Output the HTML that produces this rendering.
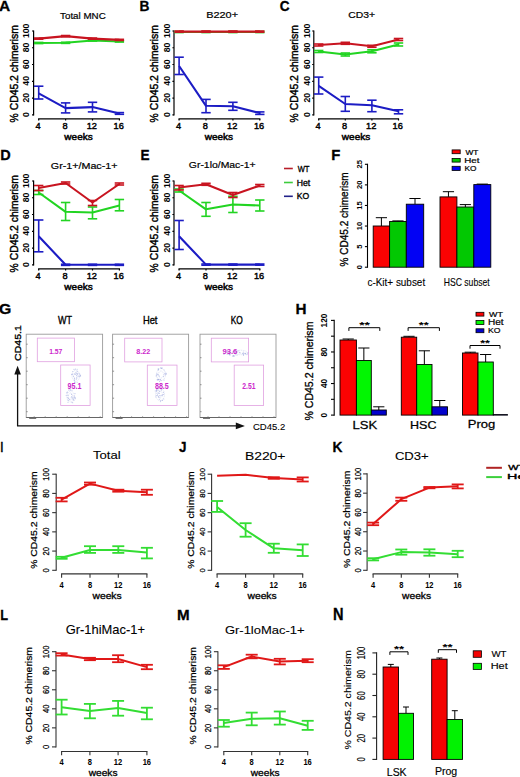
<!DOCTYPE html>
<html><head><meta charset="utf-8"><style>
html,body{margin:0;padding:0;background:#fff;overflow:hidden;}
svg{display:block;font-family:"Liberation Sans", sans-serif;}
</style></head><body>
<svg width="520" height="777" viewBox="0 0 520 777">
<rect width="520" height="777" fill="#fff"/>
<line x1="33.60" y1="30.40" x2="33.60" y2="115.40" stroke="#000" stroke-width="1.2" stroke-linecap="butt"/>
<line x1="32.00" y1="114.80" x2="33.60" y2="114.80" stroke="#000" stroke-width="1.2" stroke-linecap="butt"/>
<line x1="32.00" y1="98.04" x2="33.60" y2="98.04" stroke="#000" stroke-width="1.2" stroke-linecap="butt"/>
<line x1="32.00" y1="81.28" x2="33.60" y2="81.28" stroke="#000" stroke-width="1.2" stroke-linecap="butt"/>
<line x1="32.00" y1="64.52" x2="33.60" y2="64.52" stroke="#000" stroke-width="1.2" stroke-linecap="butt"/>
<line x1="32.00" y1="47.76" x2="33.60" y2="47.76" stroke="#000" stroke-width="1.2" stroke-linecap="butt"/>
<line x1="32.00" y1="31.00" x2="33.60" y2="31.00" stroke="#000" stroke-width="1.2" stroke-linecap="butt"/>
<line x1="38.10" y1="118.90" x2="120.00" y2="118.90" stroke="#000" stroke-width="1.2" stroke-linecap="butt"/>
<line x1="38.70" y1="118.90" x2="38.70" y2="120.50" stroke="#000" stroke-width="1.2" stroke-linecap="butt"/>
<line x1="65.60" y1="118.90" x2="65.60" y2="120.50" stroke="#000" stroke-width="1.2" stroke-linecap="butt"/>
<line x1="92.50" y1="118.90" x2="92.50" y2="120.50" stroke="#000" stroke-width="1.2" stroke-linecap="butt"/>
<line x1="119.40" y1="118.90" x2="119.40" y2="120.50" stroke="#000" stroke-width="1.2" stroke-linecap="butt"/>
<text transform="translate(29.07 116.88) rotate(-90) scale(1.013 1)" font-size="8.45" font-weight="bold" fill="#000">0</text>
<text transform="translate(29.07 102.47) rotate(-90) scale(1.013 1)" font-size="8.45" font-weight="bold" fill="#000">20</text>
<text transform="translate(29.07 85.63) rotate(-90) scale(1.013 1)" font-size="8.45" font-weight="bold" fill="#000">40</text>
<text transform="translate(29.07 68.95) rotate(-90) scale(1.013 1)" font-size="8.45" font-weight="bold" fill="#000">60</text>
<text transform="translate(29.07 52.17) rotate(-90) scale(1.013 1)" font-size="8.45" font-weight="bold" fill="#000">80</text>
<text transform="translate(29.07 37.91) rotate(-90) scale(1.013 1)" font-size="8.45" font-weight="bold" fill="#000">100</text>
<text transform="translate(35.58 128.90) scale(0.937 1)" font-size="9.86" font-weight="normal" fill="#000" stroke="#000" stroke-width="0.45">4</text>
<text transform="translate(62.41 128.90) scale(0.937 1)" font-size="9.86" font-weight="normal" fill="#000" stroke="#000" stroke-width="0.45">8</text>
<text transform="translate(86.66 128.95) scale(0.937 1)" font-size="9.86" font-weight="normal" fill="#000" stroke="#000" stroke-width="0.45">12</text>
<text transform="translate(113.51 128.90) scale(0.937 1)" font-size="9.86" font-weight="normal" fill="#000" stroke="#000" stroke-width="0.45">16</text>
<text transform="translate(64.35 140.26) scale(1.097 1)" font-size="9.12" font-weight="normal" fill="#000" stroke="#000" stroke-width="0.45">weeks</text>
<text transform="translate(17.84 122.41) rotate(-90) scale(0.966 1)" font-size="10.75" font-weight="normal" fill="#000" stroke="#000" stroke-width="0.42">% CD45.2 chimerism</text>
<text transform="translate(60.05 18.85) scale(1.013 1)" font-size="9.66" font-weight="normal" fill="#000" stroke="#000" stroke-width="0.20">Total MNC</text>
<text transform="translate(-0.99 10.90) scale(1.020 1)" font-size="15.22" font-weight="bold" fill="#000" stroke="#000" stroke-width="0.30">A</text>
<polyline points="38.70,43.00 65.60,42.80 92.50,40.50 119.40,41.50" fill="none" stroke="#22d422" stroke-width="2.1" stroke-linejoin="round"/>
<line x1="34.00" y1="43.00" x2="43.40" y2="43.00" stroke="#22d422" stroke-width="2.7300000000000004" stroke-linecap="butt"/>
<line x1="60.90" y1="42.80" x2="70.30" y2="42.80" stroke="#22d422" stroke-width="2.7300000000000004" stroke-linecap="butt"/>
<line x1="87.80" y1="40.50" x2="97.20" y2="40.50" stroke="#22d422" stroke-width="2.7300000000000004" stroke-linecap="butt"/>
<line x1="114.70" y1="41.50" x2="124.10" y2="41.50" stroke="#22d422" stroke-width="2.7300000000000004" stroke-linecap="butt"/>
<polyline points="38.70,38.60 65.60,36.10 92.50,38.60 119.40,39.90" fill="none" stroke="#c81420" stroke-width="2.1" stroke-linejoin="round"/>
<line x1="34.00" y1="38.60" x2="43.40" y2="38.60" stroke="#c81420" stroke-width="2.7300000000000004" stroke-linecap="butt"/>
<line x1="60.90" y1="36.10" x2="70.30" y2="36.10" stroke="#c81420" stroke-width="2.7300000000000004" stroke-linecap="butt"/>
<line x1="87.80" y1="38.60" x2="97.20" y2="38.60" stroke="#c81420" stroke-width="2.7300000000000004" stroke-linecap="butt"/>
<line x1="114.70" y1="39.90" x2="124.10" y2="39.90" stroke="#c81420" stroke-width="2.7300000000000004" stroke-linecap="butt"/>
<polyline points="38.70,93.30 65.60,108.10 92.50,107.10 119.40,113.50" fill="none" stroke="#1c1cc4" stroke-width="2.1" stroke-linejoin="round"/>
<line x1="38.70" y1="86.20" x2="38.70" y2="99.00" stroke="#1c1cc4" stroke-width="1.6" stroke-linecap="butt"/>
<line x1="34.00" y1="86.20" x2="43.40" y2="86.20" stroke="#1c1cc4" stroke-width="1.6" stroke-linecap="butt"/>
<line x1="34.00" y1="99.00" x2="43.40" y2="99.00" stroke="#1c1cc4" stroke-width="1.6" stroke-linecap="butt"/>
<line x1="65.60" y1="102.90" x2="65.60" y2="112.90" stroke="#1c1cc4" stroke-width="1.6" stroke-linecap="butt"/>
<line x1="60.90" y1="102.90" x2="70.30" y2="102.90" stroke="#1c1cc4" stroke-width="1.6" stroke-linecap="butt"/>
<line x1="60.90" y1="112.90" x2="70.30" y2="112.90" stroke="#1c1cc4" stroke-width="1.6" stroke-linecap="butt"/>
<line x1="92.50" y1="102.30" x2="92.50" y2="111.90" stroke="#1c1cc4" stroke-width="1.6" stroke-linecap="butt"/>
<line x1="87.80" y1="102.30" x2="97.20" y2="102.30" stroke="#1c1cc4" stroke-width="1.6" stroke-linecap="butt"/>
<line x1="87.80" y1="111.90" x2="97.20" y2="111.90" stroke="#1c1cc4" stroke-width="1.6" stroke-linecap="butt"/>
<line x1="119.40" y1="112.60" x2="119.40" y2="114.30" stroke="#1c1cc4" stroke-width="1.6" stroke-linecap="butt"/>
<line x1="114.70" y1="112.60" x2="124.10" y2="112.60" stroke="#1c1cc4" stroke-width="1.6" stroke-linecap="butt"/>
<line x1="114.70" y1="114.30" x2="124.10" y2="114.30" stroke="#1c1cc4" stroke-width="1.6" stroke-linecap="butt"/>
<line x1="174.00" y1="30.40" x2="174.00" y2="115.40" stroke="#000" stroke-width="1.2" stroke-linecap="butt"/>
<line x1="172.40" y1="114.80" x2="174.00" y2="114.80" stroke="#000" stroke-width="1.2" stroke-linecap="butt"/>
<line x1="172.40" y1="98.04" x2="174.00" y2="98.04" stroke="#000" stroke-width="1.2" stroke-linecap="butt"/>
<line x1="172.40" y1="81.28" x2="174.00" y2="81.28" stroke="#000" stroke-width="1.2" stroke-linecap="butt"/>
<line x1="172.40" y1="64.52" x2="174.00" y2="64.52" stroke="#000" stroke-width="1.2" stroke-linecap="butt"/>
<line x1="172.40" y1="47.76" x2="174.00" y2="47.76" stroke="#000" stroke-width="1.2" stroke-linecap="butt"/>
<line x1="172.40" y1="31.00" x2="174.00" y2="31.00" stroke="#000" stroke-width="1.2" stroke-linecap="butt"/>
<line x1="178.50" y1="118.90" x2="260.40" y2="118.90" stroke="#000" stroke-width="1.2" stroke-linecap="butt"/>
<line x1="179.10" y1="118.90" x2="179.10" y2="120.50" stroke="#000" stroke-width="1.2" stroke-linecap="butt"/>
<line x1="206.00" y1="118.90" x2="206.00" y2="120.50" stroke="#000" stroke-width="1.2" stroke-linecap="butt"/>
<line x1="232.90" y1="118.90" x2="232.90" y2="120.50" stroke="#000" stroke-width="1.2" stroke-linecap="butt"/>
<line x1="259.80" y1="118.90" x2="259.80" y2="120.50" stroke="#000" stroke-width="1.2" stroke-linecap="butt"/>
<text transform="translate(169.57 116.88) rotate(-90) scale(1.013 1)" font-size="8.45" font-weight="bold" fill="#000">0</text>
<text transform="translate(169.57 102.47) rotate(-90) scale(1.013 1)" font-size="8.45" font-weight="bold" fill="#000">20</text>
<text transform="translate(169.57 85.63) rotate(-90) scale(1.013 1)" font-size="8.45" font-weight="bold" fill="#000">40</text>
<text transform="translate(169.57 68.95) rotate(-90) scale(1.013 1)" font-size="8.45" font-weight="bold" fill="#000">60</text>
<text transform="translate(169.57 52.17) rotate(-90) scale(1.013 1)" font-size="8.45" font-weight="bold" fill="#000">80</text>
<text transform="translate(169.57 37.91) rotate(-90) scale(1.013 1)" font-size="8.45" font-weight="bold" fill="#000">100</text>
<text transform="translate(175.98 128.90) scale(0.937 1)" font-size="9.86" font-weight="normal" fill="#000" stroke="#000" stroke-width="0.45">4</text>
<text transform="translate(202.81 128.90) scale(0.937 1)" font-size="9.86" font-weight="normal" fill="#000" stroke="#000" stroke-width="0.45">8</text>
<text transform="translate(227.06 128.95) scale(0.937 1)" font-size="9.86" font-weight="normal" fill="#000" stroke="#000" stroke-width="0.45">12</text>
<text transform="translate(253.91 128.90) scale(0.937 1)" font-size="9.86" font-weight="normal" fill="#000" stroke="#000" stroke-width="0.45">16</text>
<text transform="translate(204.75 140.26) scale(1.097 1)" font-size="9.12" font-weight="normal" fill="#000" stroke="#000" stroke-width="0.45">weeks</text>
<text transform="translate(158.24 122.41) rotate(-90) scale(0.966 1)" font-size="10.75" font-weight="normal" fill="#000" stroke="#000" stroke-width="0.42">% CD45.2 chimerism</text>
<text transform="translate(206.18 17.76) scale(1.203 1)" font-size="9.08" font-weight="normal" fill="#000" stroke="#000" stroke-width="0.20">B220+</text>
<text transform="translate(139.50 10.90) scale(0.914 1)" font-size="15.07" font-weight="bold" fill="#000" stroke="#000" stroke-width="0.30">B</text>
<polyline points="179.10,32.00 206.00,32.00 232.90,32.00 259.80,32.00" fill="none" stroke="#22d422" stroke-width="2.1" stroke-linejoin="round"/>
<line x1="174.40" y1="32.00" x2="183.80" y2="32.00" stroke="#22d422" stroke-width="2.7300000000000004" stroke-linecap="butt"/>
<line x1="201.30" y1="32.00" x2="210.70" y2="32.00" stroke="#22d422" stroke-width="2.7300000000000004" stroke-linecap="butt"/>
<line x1="228.20" y1="32.00" x2="237.60" y2="32.00" stroke="#22d422" stroke-width="2.7300000000000004" stroke-linecap="butt"/>
<line x1="255.10" y1="32.00" x2="264.50" y2="32.00" stroke="#22d422" stroke-width="2.7300000000000004" stroke-linecap="butt"/>
<polyline points="179.10,31.60 206.00,31.60 232.90,31.60 259.80,31.60" fill="none" stroke="#c81420" stroke-width="2.1" stroke-linejoin="round"/>
<line x1="174.40" y1="31.60" x2="183.80" y2="31.60" stroke="#c81420" stroke-width="2.7300000000000004" stroke-linecap="butt"/>
<line x1="201.30" y1="31.60" x2="210.70" y2="31.60" stroke="#c81420" stroke-width="2.7300000000000004" stroke-linecap="butt"/>
<line x1="228.20" y1="31.60" x2="237.60" y2="31.60" stroke="#c81420" stroke-width="2.7300000000000004" stroke-linecap="butt"/>
<line x1="255.10" y1="31.60" x2="264.50" y2="31.60" stroke="#c81420" stroke-width="2.7300000000000004" stroke-linecap="butt"/>
<polyline points="179.10,66.00 206.00,105.80 232.90,106.20 259.80,113.10" fill="none" stroke="#1c1cc4" stroke-width="2.1" stroke-linejoin="round"/>
<line x1="179.10" y1="57.20" x2="179.10" y2="74.50" stroke="#1c1cc4" stroke-width="1.6" stroke-linecap="butt"/>
<line x1="174.40" y1="57.20" x2="183.80" y2="57.20" stroke="#1c1cc4" stroke-width="1.6" stroke-linecap="butt"/>
<line x1="174.40" y1="74.50" x2="183.80" y2="74.50" stroke="#1c1cc4" stroke-width="1.6" stroke-linecap="butt"/>
<line x1="206.00" y1="99.40" x2="206.00" y2="112.70" stroke="#1c1cc4" stroke-width="1.6" stroke-linecap="butt"/>
<line x1="201.30" y1="99.40" x2="210.70" y2="99.40" stroke="#1c1cc4" stroke-width="1.6" stroke-linecap="butt"/>
<line x1="201.30" y1="112.70" x2="210.70" y2="112.70" stroke="#1c1cc4" stroke-width="1.6" stroke-linecap="butt"/>
<line x1="232.90" y1="102.30" x2="232.90" y2="110.30" stroke="#1c1cc4" stroke-width="1.6" stroke-linecap="butt"/>
<line x1="228.20" y1="102.30" x2="237.60" y2="102.30" stroke="#1c1cc4" stroke-width="1.6" stroke-linecap="butt"/>
<line x1="228.20" y1="110.30" x2="237.60" y2="110.30" stroke="#1c1cc4" stroke-width="1.6" stroke-linecap="butt"/>
<line x1="259.80" y1="111.90" x2="259.80" y2="114.40" stroke="#1c1cc4" stroke-width="1.6" stroke-linecap="butt"/>
<line x1="255.10" y1="111.90" x2="264.50" y2="111.90" stroke="#1c1cc4" stroke-width="1.6" stroke-linecap="butt"/>
<line x1="255.10" y1="114.40" x2="264.50" y2="114.40" stroke="#1c1cc4" stroke-width="1.6" stroke-linecap="butt"/>
<line x1="313.80" y1="30.40" x2="313.80" y2="115.40" stroke="#000" stroke-width="1.2" stroke-linecap="butt"/>
<line x1="312.20" y1="114.80" x2="313.80" y2="114.80" stroke="#000" stroke-width="1.2" stroke-linecap="butt"/>
<line x1="312.20" y1="98.04" x2="313.80" y2="98.04" stroke="#000" stroke-width="1.2" stroke-linecap="butt"/>
<line x1="312.20" y1="81.28" x2="313.80" y2="81.28" stroke="#000" stroke-width="1.2" stroke-linecap="butt"/>
<line x1="312.20" y1="64.52" x2="313.80" y2="64.52" stroke="#000" stroke-width="1.2" stroke-linecap="butt"/>
<line x1="312.20" y1="47.76" x2="313.80" y2="47.76" stroke="#000" stroke-width="1.2" stroke-linecap="butt"/>
<line x1="312.20" y1="31.00" x2="313.80" y2="31.00" stroke="#000" stroke-width="1.2" stroke-linecap="butt"/>
<line x1="318.10" y1="118.90" x2="399.10" y2="118.90" stroke="#000" stroke-width="1.2" stroke-linecap="butt"/>
<line x1="318.70" y1="118.90" x2="318.70" y2="120.50" stroke="#000" stroke-width="1.2" stroke-linecap="butt"/>
<line x1="345.30" y1="118.90" x2="345.30" y2="120.50" stroke="#000" stroke-width="1.2" stroke-linecap="butt"/>
<line x1="371.90" y1="118.90" x2="371.90" y2="120.50" stroke="#000" stroke-width="1.2" stroke-linecap="butt"/>
<line x1="398.50" y1="118.90" x2="398.50" y2="120.50" stroke="#000" stroke-width="1.2" stroke-linecap="butt"/>
<text transform="translate(309.57 116.88) rotate(-90) scale(1.013 1)" font-size="8.45" font-weight="bold" fill="#000">0</text>
<text transform="translate(309.57 102.47) rotate(-90) scale(1.013 1)" font-size="8.45" font-weight="bold" fill="#000">20</text>
<text transform="translate(309.57 85.63) rotate(-90) scale(1.013 1)" font-size="8.45" font-weight="bold" fill="#000">40</text>
<text transform="translate(309.57 68.95) rotate(-90) scale(1.013 1)" font-size="8.45" font-weight="bold" fill="#000">60</text>
<text transform="translate(309.57 52.17) rotate(-90) scale(1.013 1)" font-size="8.45" font-weight="bold" fill="#000">80</text>
<text transform="translate(309.57 37.91) rotate(-90) scale(1.013 1)" font-size="8.45" font-weight="bold" fill="#000">100</text>
<text transform="translate(315.58 128.90) scale(0.937 1)" font-size="9.86" font-weight="normal" fill="#000" stroke="#000" stroke-width="0.45">4</text>
<text transform="translate(342.11 128.90) scale(0.937 1)" font-size="9.86" font-weight="normal" fill="#000" stroke="#000" stroke-width="0.45">8</text>
<text transform="translate(366.06 128.95) scale(0.937 1)" font-size="9.86" font-weight="normal" fill="#000" stroke="#000" stroke-width="0.45">12</text>
<text transform="translate(392.61 128.90) scale(0.937 1)" font-size="9.86" font-weight="normal" fill="#000" stroke="#000" stroke-width="0.45">16</text>
<text transform="translate(341.85 140.26) scale(1.097 1)" font-size="9.12" font-weight="normal" fill="#000" stroke="#000" stroke-width="0.45">weeks</text>
<text transform="translate(298.04 122.41) rotate(-90) scale(0.966 1)" font-size="10.75" font-weight="normal" fill="#000" stroke="#000" stroke-width="0.42">% CD45.2 chimerism</text>
<text transform="translate(348.33 18.27) scale(1.229 1)" font-size="8.45" font-weight="normal" fill="#000" stroke="#000" stroke-width="0.20">CD3+</text>
<text transform="translate(279.66 10.85) scale(0.910 1)" font-size="14.93" font-weight="bold" fill="#000" stroke="#000" stroke-width="0.30">C</text>
<polyline points="318.70,51.50 345.30,54.50 371.90,51.30 398.50,44.50" fill="none" stroke="#22d422" stroke-width="2.1" stroke-linejoin="round"/>
<line x1="318.70" y1="50.50" x2="318.70" y2="52.50" stroke="#22d422" stroke-width="1.6" stroke-linecap="butt"/>
<line x1="314.00" y1="50.50" x2="323.40" y2="50.50" stroke="#22d422" stroke-width="1.6" stroke-linecap="butt"/>
<line x1="314.00" y1="52.50" x2="323.40" y2="52.50" stroke="#22d422" stroke-width="1.6" stroke-linecap="butt"/>
<line x1="345.30" y1="53.00" x2="345.30" y2="56.00" stroke="#22d422" stroke-width="1.6" stroke-linecap="butt"/>
<line x1="340.60" y1="53.00" x2="350.00" y2="53.00" stroke="#22d422" stroke-width="1.6" stroke-linecap="butt"/>
<line x1="340.60" y1="56.00" x2="350.00" y2="56.00" stroke="#22d422" stroke-width="1.6" stroke-linecap="butt"/>
<line x1="371.90" y1="49.80" x2="371.90" y2="52.80" stroke="#22d422" stroke-width="1.6" stroke-linecap="butt"/>
<line x1="367.20" y1="49.80" x2="376.60" y2="49.80" stroke="#22d422" stroke-width="1.6" stroke-linecap="butt"/>
<line x1="367.20" y1="52.80" x2="376.60" y2="52.80" stroke="#22d422" stroke-width="1.6" stroke-linecap="butt"/>
<line x1="398.50" y1="43.00" x2="398.50" y2="46.00" stroke="#22d422" stroke-width="1.6" stroke-linecap="butt"/>
<line x1="393.80" y1="43.00" x2="403.20" y2="43.00" stroke="#22d422" stroke-width="1.6" stroke-linecap="butt"/>
<line x1="393.80" y1="46.00" x2="403.20" y2="46.00" stroke="#22d422" stroke-width="1.6" stroke-linecap="butt"/>
<polyline points="318.70,45.00 345.30,43.30 371.90,46.30 398.50,39.50" fill="none" stroke="#c81420" stroke-width="2.1" stroke-linejoin="round"/>
<line x1="318.70" y1="44.00" x2="318.70" y2="46.00" stroke="#c81420" stroke-width="1.6" stroke-linecap="butt"/>
<line x1="314.00" y1="44.00" x2="323.40" y2="44.00" stroke="#c81420" stroke-width="1.6" stroke-linecap="butt"/>
<line x1="314.00" y1="46.00" x2="323.40" y2="46.00" stroke="#c81420" stroke-width="1.6" stroke-linecap="butt"/>
<line x1="345.30" y1="42.30" x2="345.30" y2="44.30" stroke="#c81420" stroke-width="1.6" stroke-linecap="butt"/>
<line x1="340.60" y1="42.30" x2="350.00" y2="42.30" stroke="#c81420" stroke-width="1.6" stroke-linecap="butt"/>
<line x1="340.60" y1="44.30" x2="350.00" y2="44.30" stroke="#c81420" stroke-width="1.6" stroke-linecap="butt"/>
<line x1="371.90" y1="45.30" x2="371.90" y2="47.30" stroke="#c81420" stroke-width="1.6" stroke-linecap="butt"/>
<line x1="367.20" y1="45.30" x2="376.60" y2="45.30" stroke="#c81420" stroke-width="1.6" stroke-linecap="butt"/>
<line x1="367.20" y1="47.30" x2="376.60" y2="47.30" stroke="#c81420" stroke-width="1.6" stroke-linecap="butt"/>
<line x1="398.50" y1="38.50" x2="398.50" y2="40.50" stroke="#c81420" stroke-width="1.6" stroke-linecap="butt"/>
<line x1="393.80" y1="38.50" x2="403.20" y2="38.50" stroke="#c81420" stroke-width="1.6" stroke-linecap="butt"/>
<line x1="393.80" y1="40.50" x2="403.20" y2="40.50" stroke="#c81420" stroke-width="1.6" stroke-linecap="butt"/>
<polyline points="318.70,85.80 345.30,104.00 371.90,105.20 398.50,111.30" fill="none" stroke="#1c1cc4" stroke-width="2.1" stroke-linejoin="round"/>
<line x1="318.70" y1="77.10" x2="318.70" y2="94.00" stroke="#1c1cc4" stroke-width="1.6" stroke-linecap="butt"/>
<line x1="314.00" y1="77.10" x2="323.40" y2="77.10" stroke="#1c1cc4" stroke-width="1.6" stroke-linecap="butt"/>
<line x1="314.00" y1="94.00" x2="323.40" y2="94.00" stroke="#1c1cc4" stroke-width="1.6" stroke-linecap="butt"/>
<line x1="345.30" y1="96.50" x2="345.30" y2="111.30" stroke="#1c1cc4" stroke-width="1.6" stroke-linecap="butt"/>
<line x1="340.60" y1="96.50" x2="350.00" y2="96.50" stroke="#1c1cc4" stroke-width="1.6" stroke-linecap="butt"/>
<line x1="340.60" y1="111.30" x2="350.00" y2="111.30" stroke="#1c1cc4" stroke-width="1.6" stroke-linecap="butt"/>
<line x1="371.90" y1="100.20" x2="371.90" y2="111.70" stroke="#1c1cc4" stroke-width="1.6" stroke-linecap="butt"/>
<line x1="367.20" y1="100.20" x2="376.60" y2="100.20" stroke="#1c1cc4" stroke-width="1.6" stroke-linecap="butt"/>
<line x1="367.20" y1="111.70" x2="376.60" y2="111.70" stroke="#1c1cc4" stroke-width="1.6" stroke-linecap="butt"/>
<line x1="398.50" y1="109.80" x2="398.50" y2="113.80" stroke="#1c1cc4" stroke-width="1.6" stroke-linecap="butt"/>
<line x1="393.80" y1="109.80" x2="403.20" y2="109.80" stroke="#1c1cc4" stroke-width="1.6" stroke-linecap="butt"/>
<line x1="393.80" y1="113.80" x2="403.20" y2="113.80" stroke="#1c1cc4" stroke-width="1.6" stroke-linecap="butt"/>
<line x1="33.60" y1="180.40" x2="33.60" y2="265.40" stroke="#000" stroke-width="1.2" stroke-linecap="butt"/>
<line x1="32.00" y1="264.80" x2="33.60" y2="264.80" stroke="#000" stroke-width="1.2" stroke-linecap="butt"/>
<line x1="32.00" y1="248.04" x2="33.60" y2="248.04" stroke="#000" stroke-width="1.2" stroke-linecap="butt"/>
<line x1="32.00" y1="231.28" x2="33.60" y2="231.28" stroke="#000" stroke-width="1.2" stroke-linecap="butt"/>
<line x1="32.00" y1="214.52" x2="33.60" y2="214.52" stroke="#000" stroke-width="1.2" stroke-linecap="butt"/>
<line x1="32.00" y1="197.76" x2="33.60" y2="197.76" stroke="#000" stroke-width="1.2" stroke-linecap="butt"/>
<line x1="32.00" y1="181.00" x2="33.60" y2="181.00" stroke="#000" stroke-width="1.2" stroke-linecap="butt"/>
<line x1="38.10" y1="268.90" x2="120.00" y2="268.90" stroke="#000" stroke-width="1.2" stroke-linecap="butt"/>
<line x1="38.70" y1="268.90" x2="38.70" y2="270.50" stroke="#000" stroke-width="1.2" stroke-linecap="butt"/>
<line x1="65.60" y1="268.90" x2="65.60" y2="270.50" stroke="#000" stroke-width="1.2" stroke-linecap="butt"/>
<line x1="92.50" y1="268.90" x2="92.50" y2="270.50" stroke="#000" stroke-width="1.2" stroke-linecap="butt"/>
<line x1="119.40" y1="268.90" x2="119.40" y2="270.50" stroke="#000" stroke-width="1.2" stroke-linecap="butt"/>
<text transform="translate(29.07 266.88) rotate(-90) scale(1.013 1)" font-size="8.45" font-weight="bold" fill="#000">0</text>
<text transform="translate(29.07 252.47) rotate(-90) scale(1.013 1)" font-size="8.45" font-weight="bold" fill="#000">20</text>
<text transform="translate(29.07 235.63) rotate(-90) scale(1.013 1)" font-size="8.45" font-weight="bold" fill="#000">40</text>
<text transform="translate(29.07 218.95) rotate(-90) scale(1.013 1)" font-size="8.45" font-weight="bold" fill="#000">60</text>
<text transform="translate(29.07 202.17) rotate(-90) scale(1.013 1)" font-size="8.45" font-weight="bold" fill="#000">80</text>
<text transform="translate(29.07 187.91) rotate(-90) scale(1.013 1)" font-size="8.45" font-weight="bold" fill="#000">100</text>
<text transform="translate(35.58 278.90) scale(0.937 1)" font-size="9.86" font-weight="normal" fill="#000" stroke="#000" stroke-width="0.45">4</text>
<text transform="translate(62.41 278.90) scale(0.937 1)" font-size="9.86" font-weight="normal" fill="#000" stroke="#000" stroke-width="0.45">8</text>
<text transform="translate(86.66 278.95) scale(0.937 1)" font-size="9.86" font-weight="normal" fill="#000" stroke="#000" stroke-width="0.45">12</text>
<text transform="translate(113.51 278.90) scale(0.937 1)" font-size="9.86" font-weight="normal" fill="#000" stroke="#000" stroke-width="0.45">16</text>
<text transform="translate(64.35 290.26) scale(1.097 1)" font-size="9.12" font-weight="normal" fill="#000" stroke="#000" stroke-width="0.45">weeks</text>
<text transform="translate(17.84 272.41) rotate(-90) scale(0.966 1)" font-size="10.75" font-weight="normal" fill="#000" stroke="#000" stroke-width="0.42">% CD45.2 chimerism</text>
<text transform="translate(50.81 168.95) scale(1.128 1)" font-size="9.52" font-weight="normal" fill="#000" stroke="#000" stroke-width="0.20">Gr-1+/Mac-1+</text>
<text transform="translate(0.26 160.30) scale(0.989 1)" font-size="14.64" font-weight="bold" fill="#000" stroke="#000" stroke-width="0.30">D</text>
<polyline points="38.70,192.50 65.60,211.80 92.50,212.50 119.40,205.50" fill="none" stroke="#22d422" stroke-width="2.1" stroke-linejoin="round"/>
<line x1="38.70" y1="190.50" x2="38.70" y2="194.50" stroke="#22d422" stroke-width="1.6" stroke-linecap="butt"/>
<line x1="34.00" y1="190.50" x2="43.40" y2="190.50" stroke="#22d422" stroke-width="1.6" stroke-linecap="butt"/>
<line x1="34.00" y1="194.50" x2="43.40" y2="194.50" stroke="#22d422" stroke-width="1.6" stroke-linecap="butt"/>
<line x1="65.60" y1="202.50" x2="65.60" y2="220.50" stroke="#22d422" stroke-width="1.6" stroke-linecap="butt"/>
<line x1="60.90" y1="202.50" x2="70.30" y2="202.50" stroke="#22d422" stroke-width="1.6" stroke-linecap="butt"/>
<line x1="60.90" y1="220.50" x2="70.30" y2="220.50" stroke="#22d422" stroke-width="1.6" stroke-linecap="butt"/>
<line x1="92.50" y1="207.00" x2="92.50" y2="218.80" stroke="#22d422" stroke-width="1.6" stroke-linecap="butt"/>
<line x1="87.80" y1="207.00" x2="97.20" y2="207.00" stroke="#22d422" stroke-width="1.6" stroke-linecap="butt"/>
<line x1="87.80" y1="218.80" x2="97.20" y2="218.80" stroke="#22d422" stroke-width="1.6" stroke-linecap="butt"/>
<line x1="119.40" y1="199.50" x2="119.40" y2="210.80" stroke="#22d422" stroke-width="1.6" stroke-linecap="butt"/>
<line x1="114.70" y1="199.50" x2="124.10" y2="199.50" stroke="#22d422" stroke-width="1.6" stroke-linecap="butt"/>
<line x1="114.70" y1="210.80" x2="124.10" y2="210.80" stroke="#22d422" stroke-width="1.6" stroke-linecap="butt"/>
<polyline points="38.70,188.00 65.60,183.00 92.50,202.50 119.40,184.00" fill="none" stroke="#c81420" stroke-width="2.1" stroke-linejoin="round"/>
<line x1="38.70" y1="185.50" x2="38.70" y2="190.50" stroke="#c81420" stroke-width="1.6" stroke-linecap="butt"/>
<line x1="34.00" y1="185.50" x2="43.40" y2="185.50" stroke="#c81420" stroke-width="1.6" stroke-linecap="butt"/>
<line x1="34.00" y1="190.50" x2="43.40" y2="190.50" stroke="#c81420" stroke-width="1.6" stroke-linecap="butt"/>
<line x1="65.60" y1="182.00" x2="65.60" y2="184.00" stroke="#c81420" stroke-width="1.6" stroke-linecap="butt"/>
<line x1="60.90" y1="182.00" x2="70.30" y2="182.00" stroke="#c81420" stroke-width="1.6" stroke-linecap="butt"/>
<line x1="60.90" y1="184.00" x2="70.30" y2="184.00" stroke="#c81420" stroke-width="1.6" stroke-linecap="butt"/>
<line x1="92.50" y1="200.50" x2="92.50" y2="205.50" stroke="#c81420" stroke-width="1.6" stroke-linecap="butt"/>
<line x1="87.80" y1="200.50" x2="97.20" y2="200.50" stroke="#c81420" stroke-width="1.6" stroke-linecap="butt"/>
<line x1="87.80" y1="205.50" x2="97.20" y2="205.50" stroke="#c81420" stroke-width="1.6" stroke-linecap="butt"/>
<line x1="119.40" y1="183.00" x2="119.40" y2="185.00" stroke="#c81420" stroke-width="1.6" stroke-linecap="butt"/>
<line x1="114.70" y1="183.00" x2="124.10" y2="183.00" stroke="#c81420" stroke-width="1.6" stroke-linecap="butt"/>
<line x1="114.70" y1="185.00" x2="124.10" y2="185.00" stroke="#c81420" stroke-width="1.6" stroke-linecap="butt"/>
<polyline points="38.70,236.30 65.60,264.80 92.50,264.80 119.40,264.80" fill="none" stroke="#1c1cc4" stroke-width="2.1" stroke-linejoin="round"/>
<line x1="38.70" y1="220.00" x2="38.70" y2="251.80" stroke="#1c1cc4" stroke-width="1.6" stroke-linecap="butt"/>
<line x1="34.00" y1="220.00" x2="43.40" y2="220.00" stroke="#1c1cc4" stroke-width="1.6" stroke-linecap="butt"/>
<line x1="34.00" y1="251.80" x2="43.40" y2="251.80" stroke="#1c1cc4" stroke-width="1.6" stroke-linecap="butt"/>
<line x1="60.90" y1="264.80" x2="70.30" y2="264.80" stroke="#1c1cc4" stroke-width="2.7300000000000004" stroke-linecap="butt"/>
<line x1="87.80" y1="264.80" x2="97.20" y2="264.80" stroke="#1c1cc4" stroke-width="2.7300000000000004" stroke-linecap="butt"/>
<line x1="114.70" y1="264.80" x2="124.10" y2="264.80" stroke="#1c1cc4" stroke-width="2.7300000000000004" stroke-linecap="butt"/>
<line x1="174.00" y1="180.40" x2="174.00" y2="265.40" stroke="#000" stroke-width="1.2" stroke-linecap="butt"/>
<line x1="172.40" y1="264.80" x2="174.00" y2="264.80" stroke="#000" stroke-width="1.2" stroke-linecap="butt"/>
<line x1="172.40" y1="248.04" x2="174.00" y2="248.04" stroke="#000" stroke-width="1.2" stroke-linecap="butt"/>
<line x1="172.40" y1="231.28" x2="174.00" y2="231.28" stroke="#000" stroke-width="1.2" stroke-linecap="butt"/>
<line x1="172.40" y1="214.52" x2="174.00" y2="214.52" stroke="#000" stroke-width="1.2" stroke-linecap="butt"/>
<line x1="172.40" y1="197.76" x2="174.00" y2="197.76" stroke="#000" stroke-width="1.2" stroke-linecap="butt"/>
<line x1="172.40" y1="181.00" x2="174.00" y2="181.00" stroke="#000" stroke-width="1.2" stroke-linecap="butt"/>
<line x1="178.50" y1="268.90" x2="260.40" y2="268.90" stroke="#000" stroke-width="1.2" stroke-linecap="butt"/>
<line x1="179.10" y1="268.90" x2="179.10" y2="270.50" stroke="#000" stroke-width="1.2" stroke-linecap="butt"/>
<line x1="206.00" y1="268.90" x2="206.00" y2="270.50" stroke="#000" stroke-width="1.2" stroke-linecap="butt"/>
<line x1="232.90" y1="268.90" x2="232.90" y2="270.50" stroke="#000" stroke-width="1.2" stroke-linecap="butt"/>
<line x1="259.80" y1="268.90" x2="259.80" y2="270.50" stroke="#000" stroke-width="1.2" stroke-linecap="butt"/>
<text transform="translate(169.57 266.88) rotate(-90) scale(1.013 1)" font-size="8.45" font-weight="bold" fill="#000">0</text>
<text transform="translate(169.57 252.47) rotate(-90) scale(1.013 1)" font-size="8.45" font-weight="bold" fill="#000">20</text>
<text transform="translate(169.57 235.63) rotate(-90) scale(1.013 1)" font-size="8.45" font-weight="bold" fill="#000">40</text>
<text transform="translate(169.57 218.95) rotate(-90) scale(1.013 1)" font-size="8.45" font-weight="bold" fill="#000">60</text>
<text transform="translate(169.57 202.17) rotate(-90) scale(1.013 1)" font-size="8.45" font-weight="bold" fill="#000">80</text>
<text transform="translate(169.57 187.91) rotate(-90) scale(1.013 1)" font-size="8.45" font-weight="bold" fill="#000">100</text>
<text transform="translate(175.98 278.90) scale(0.937 1)" font-size="9.86" font-weight="normal" fill="#000" stroke="#000" stroke-width="0.45">4</text>
<text transform="translate(202.81 278.90) scale(0.937 1)" font-size="9.86" font-weight="normal" fill="#000" stroke="#000" stroke-width="0.45">8</text>
<text transform="translate(227.06 278.95) scale(0.937 1)" font-size="9.86" font-weight="normal" fill="#000" stroke="#000" stroke-width="0.45">12</text>
<text transform="translate(253.91 278.90) scale(0.937 1)" font-size="9.86" font-weight="normal" fill="#000" stroke="#000" stroke-width="0.45">16</text>
<text transform="translate(204.75 290.26) scale(1.097 1)" font-size="9.12" font-weight="normal" fill="#000" stroke="#000" stroke-width="0.45">weeks</text>
<text transform="translate(158.24 272.41) rotate(-90) scale(0.966 1)" font-size="10.75" font-weight="normal" fill="#000" stroke="#000" stroke-width="0.42">% CD45.2 chimerism</text>
<text transform="translate(188.83 167.85) scale(1.095 1)" font-size="9.52" font-weight="normal" fill="#000" stroke="#000" stroke-width="0.20">Gr-1lo/Mac-1+</text>
<text transform="translate(140.51 160.40) scale(0.922 1)" font-size="14.78" font-weight="bold" fill="#000" stroke="#000" stroke-width="0.30">E</text>
<polyline points="179.10,190.50 206.00,209.30 232.90,204.50 259.80,205.50" fill="none" stroke="#22d422" stroke-width="2.1" stroke-linejoin="round"/>
<line x1="179.10" y1="189.00" x2="179.10" y2="192.00" stroke="#22d422" stroke-width="1.6" stroke-linecap="butt"/>
<line x1="174.40" y1="189.00" x2="183.80" y2="189.00" stroke="#22d422" stroke-width="1.6" stroke-linecap="butt"/>
<line x1="174.40" y1="192.00" x2="183.80" y2="192.00" stroke="#22d422" stroke-width="1.6" stroke-linecap="butt"/>
<line x1="206.00" y1="202.50" x2="206.00" y2="216.30" stroke="#22d422" stroke-width="1.6" stroke-linecap="butt"/>
<line x1="201.30" y1="202.50" x2="210.70" y2="202.50" stroke="#22d422" stroke-width="1.6" stroke-linecap="butt"/>
<line x1="201.30" y1="216.30" x2="210.70" y2="216.30" stroke="#22d422" stroke-width="1.6" stroke-linecap="butt"/>
<line x1="232.90" y1="196.30" x2="232.90" y2="212.50" stroke="#22d422" stroke-width="1.6" stroke-linecap="butt"/>
<line x1="228.20" y1="196.30" x2="237.60" y2="196.30" stroke="#22d422" stroke-width="1.6" stroke-linecap="butt"/>
<line x1="228.20" y1="212.50" x2="237.60" y2="212.50" stroke="#22d422" stroke-width="1.6" stroke-linecap="butt"/>
<line x1="259.80" y1="200.00" x2="259.80" y2="211.00" stroke="#22d422" stroke-width="1.6" stroke-linecap="butt"/>
<line x1="255.10" y1="200.00" x2="264.50" y2="200.00" stroke="#22d422" stroke-width="1.6" stroke-linecap="butt"/>
<line x1="255.10" y1="211.00" x2="264.50" y2="211.00" stroke="#22d422" stroke-width="1.6" stroke-linecap="butt"/>
<polyline points="179.10,187.50 206.00,184.30 232.90,195.00 259.80,185.50" fill="none" stroke="#c81420" stroke-width="2.1" stroke-linejoin="round"/>
<line x1="179.10" y1="185.50" x2="179.10" y2="190.00" stroke="#c81420" stroke-width="1.6" stroke-linecap="butt"/>
<line x1="174.40" y1="185.50" x2="183.80" y2="185.50" stroke="#c81420" stroke-width="1.6" stroke-linecap="butt"/>
<line x1="174.40" y1="190.00" x2="183.80" y2="190.00" stroke="#c81420" stroke-width="1.6" stroke-linecap="butt"/>
<line x1="206.00" y1="183.30" x2="206.00" y2="185.30" stroke="#c81420" stroke-width="1.6" stroke-linecap="butt"/>
<line x1="201.30" y1="183.30" x2="210.70" y2="183.30" stroke="#c81420" stroke-width="1.6" stroke-linecap="butt"/>
<line x1="201.30" y1="185.30" x2="210.70" y2="185.30" stroke="#c81420" stroke-width="1.6" stroke-linecap="butt"/>
<line x1="232.90" y1="192.50" x2="232.90" y2="197.50" stroke="#c81420" stroke-width="1.6" stroke-linecap="butt"/>
<line x1="228.20" y1="192.50" x2="237.60" y2="192.50" stroke="#c81420" stroke-width="1.6" stroke-linecap="butt"/>
<line x1="228.20" y1="197.50" x2="237.60" y2="197.50" stroke="#c81420" stroke-width="1.6" stroke-linecap="butt"/>
<line x1="259.80" y1="184.50" x2="259.80" y2="186.50" stroke="#c81420" stroke-width="1.6" stroke-linecap="butt"/>
<line x1="255.10" y1="184.50" x2="264.50" y2="184.50" stroke="#c81420" stroke-width="1.6" stroke-linecap="butt"/>
<line x1="255.10" y1="186.50" x2="264.50" y2="186.50" stroke="#c81420" stroke-width="1.6" stroke-linecap="butt"/>
<polyline points="179.10,236.30 206.00,264.60 232.90,264.60 259.80,264.60" fill="none" stroke="#1c1cc4" stroke-width="2.1" stroke-linejoin="round"/>
<line x1="179.10" y1="220.50" x2="179.10" y2="249.50" stroke="#1c1cc4" stroke-width="1.6" stroke-linecap="butt"/>
<line x1="174.40" y1="220.50" x2="183.80" y2="220.50" stroke="#1c1cc4" stroke-width="1.6" stroke-linecap="butt"/>
<line x1="174.40" y1="249.50" x2="183.80" y2="249.50" stroke="#1c1cc4" stroke-width="1.6" stroke-linecap="butt"/>
<line x1="206.00" y1="264.00" x2="206.00" y2="265.20" stroke="#1c1cc4" stroke-width="1.6" stroke-linecap="butt"/>
<line x1="201.30" y1="264.00" x2="210.70" y2="264.00" stroke="#1c1cc4" stroke-width="1.6" stroke-linecap="butt"/>
<line x1="201.30" y1="265.20" x2="210.70" y2="265.20" stroke="#1c1cc4" stroke-width="1.6" stroke-linecap="butt"/>
<line x1="228.20" y1="264.60" x2="237.60" y2="264.60" stroke="#1c1cc4" stroke-width="2.7300000000000004" stroke-linecap="butt"/>
<line x1="255.10" y1="264.60" x2="264.50" y2="264.60" stroke="#1c1cc4" stroke-width="2.7300000000000004" stroke-linecap="butt"/>
<line x1="284.00" y1="168.50" x2="292.80" y2="168.50" stroke="#b81e2a" stroke-width="1.6" stroke-linecap="butt"/>
<text transform="translate(297.71 171.75) scale(0.844 1)" font-size="8.99" font-weight="normal" fill="#000" stroke="#000" stroke-width="0.35">WT</text>
<line x1="284.00" y1="182.50" x2="292.80" y2="182.50" stroke="#3ccc3c" stroke-width="1.6" stroke-linecap="butt"/>
<text transform="translate(296.66 185.56) scale(0.960 1)" font-size="9.00" font-weight="normal" fill="#000" stroke="#000" stroke-width="0.35">Het</text>
<line x1="284.00" y1="196.30" x2="292.80" y2="196.30" stroke="#22228a" stroke-width="1.6" stroke-linecap="butt"/>
<text transform="translate(296.66 199.36) scale(0.984 1)" font-size="8.73" font-weight="normal" fill="#000" stroke="#000" stroke-width="0.35">KO</text>
<line x1="367.50" y1="163.75" x2="367.50" y2="267.75" stroke="#000" stroke-width="1.1" stroke-linecap="butt"/>
<line x1="364.90" y1="267.20" x2="367.50" y2="267.20" stroke="#000" stroke-width="1.1" stroke-linecap="butt"/>
<line x1="364.90" y1="246.62" x2="367.50" y2="246.62" stroke="#000" stroke-width="1.1" stroke-linecap="butt"/>
<line x1="364.90" y1="226.04" x2="367.50" y2="226.04" stroke="#000" stroke-width="1.1" stroke-linecap="butt"/>
<line x1="364.90" y1="205.46" x2="367.50" y2="205.46" stroke="#000" stroke-width="1.1" stroke-linecap="butt"/>
<line x1="364.90" y1="184.88" x2="367.50" y2="184.88" stroke="#000" stroke-width="1.1" stroke-linecap="butt"/>
<line x1="364.90" y1="164.30" x2="367.50" y2="164.30" stroke="#000" stroke-width="1.1" stroke-linecap="butt"/>
<text transform="translate(361.97 269.29) rotate(-90) scale(0.937 1)" font-size="8.03" font-weight="bold" fill="#000">0</text>
<text transform="translate(361.93 248.73) rotate(-90) scale(0.937 1)" font-size="8.03" font-weight="bold" fill="#000">5</text>
<text transform="translate(361.97 230.29) rotate(-90) scale(0.937 1)" font-size="8.03" font-weight="bold" fill="#000">10</text>
<text transform="translate(361.93 209.77) rotate(-90) scale(0.937 1)" font-size="8.03" font-weight="bold" fill="#000">15</text>
<text transform="translate(361.97 189.04) rotate(-90) scale(0.937 1)" font-size="8.03" font-weight="bold" fill="#000">20</text>
<text transform="translate(361.97 168.51) rotate(-90) scale(0.937 1)" font-size="8.03" font-weight="bold" fill="#000">25</text>
<text transform="translate(348.35 266.40) rotate(-90) scale(0.995 1)" font-size="10.07" font-weight="normal" fill="#000" stroke="#000" stroke-width="0.30">% CD45.2 chimerism</text>
<text transform="translate(331.13 160.40) scale(1.008 1)" font-size="14.78" font-weight="bold" fill="#000" stroke="#000" stroke-width="0.30">F</text>
<line x1="381.40" y1="217.70" x2="381.40" y2="226.00" stroke="#000" stroke-width="1" stroke-linecap="butt"/>
<line x1="375.80" y1="217.70" x2="387.00" y2="217.70" stroke="#000" stroke-width="1" stroke-linecap="butt"/>
<rect x="373.20" y="226.00" width="16.40" height="41.20" fill="#fa0202" stroke="#000" stroke-width="0.9"/>
<line x1="397.95" y1="220.90" x2="397.95" y2="221.50" stroke="#000" stroke-width="1" stroke-linecap="butt"/>
<line x1="392.35" y1="220.90" x2="403.55" y2="220.90" stroke="#000" stroke-width="1" stroke-linecap="butt"/>
<rect x="389.60" y="221.50" width="16.70" height="45.70" fill="#02c802" stroke="#000" stroke-width="0.9"/>
<line x1="415.00" y1="198.50" x2="415.00" y2="204.20" stroke="#000" stroke-width="1" stroke-linecap="butt"/>
<line x1="409.40" y1="198.50" x2="420.60" y2="198.50" stroke="#000" stroke-width="1" stroke-linecap="butt"/>
<rect x="406.30" y="204.20" width="17.40" height="63.00" fill="#0202f4" stroke="#000" stroke-width="0.9"/>
<line x1="448.45" y1="191.70" x2="448.45" y2="196.90" stroke="#000" stroke-width="1" stroke-linecap="butt"/>
<line x1="442.85" y1="191.70" x2="454.05" y2="191.70" stroke="#000" stroke-width="1" stroke-linecap="butt"/>
<rect x="440.00" y="196.90" width="16.90" height="70.30" fill="#fa0202" stroke="#000" stroke-width="0.9"/>
<line x1="465.35" y1="204.60" x2="465.35" y2="207.00" stroke="#000" stroke-width="1" stroke-linecap="butt"/>
<line x1="459.75" y1="204.60" x2="470.95" y2="204.60" stroke="#000" stroke-width="1" stroke-linecap="butt"/>
<rect x="456.90" y="207.00" width="16.90" height="60.20" fill="#02c802" stroke="#000" stroke-width="0.9"/>
<line x1="482.30" y1="184.10" x2="482.30" y2="184.60" stroke="#000" stroke-width="1" stroke-linecap="butt"/>
<line x1="476.70" y1="184.10" x2="487.90" y2="184.10" stroke="#000" stroke-width="1" stroke-linecap="butt"/>
<rect x="473.80" y="184.60" width="17.00" height="82.60" fill="#0202f4" stroke="#000" stroke-width="0.9"/>
<text transform="translate(367.45 285.65) scale(0.975 1)" font-size="10.20" font-weight="normal" fill="#000" stroke="#000" stroke-width="0.10">c-Kit+ subset</text>
<text transform="translate(443.66 285.65) scale(0.847 1)" font-size="10.20" font-weight="normal" fill="#000" stroke="#000" stroke-width="0.10">HSC subset</text>
<rect x="452.10" y="149.90" width="8.10" height="3.80" fill="#fa0202" stroke="#000" stroke-width="0.8"/>
<text transform="translate(465.41 154.55) scale(1.169 1)" font-size="7.10" font-weight="normal" fill="#000" stroke="#000" stroke-width="0.20">WT</text>
<rect x="452.10" y="158.50" width="8.10" height="3.60" fill="#02c802" stroke="#000" stroke-width="0.8"/>
<text transform="translate(464.27 162.67) scale(1.294 1)" font-size="7.57" font-weight="normal" fill="#000" stroke="#000" stroke-width="0.20">Het</text>
<rect x="452.10" y="166.30" width="8.10" height="4.20" fill="#0202f4" stroke="#000" stroke-width="0.8"/>
<text transform="translate(464.39 170.88) scale(1.154 1)" font-size="7.18" font-weight="normal" fill="#000" stroke="#000" stroke-width="0.20">KO</text>
<line x1="334.20" y1="319.85" x2="334.20" y2="415.65" stroke="#000" stroke-width="1.1" stroke-linecap="butt"/>
<line x1="331.00" y1="415.10" x2="334.20" y2="415.10" stroke="#000" stroke-width="1.1" stroke-linecap="butt"/>
<line x1="331.00" y1="399.32" x2="334.20" y2="399.32" stroke="#000" stroke-width="1.1" stroke-linecap="butt"/>
<line x1="331.00" y1="383.53" x2="334.20" y2="383.53" stroke="#000" stroke-width="1.1" stroke-linecap="butt"/>
<line x1="331.00" y1="367.75" x2="334.20" y2="367.75" stroke="#000" stroke-width="1.1" stroke-linecap="butt"/>
<line x1="331.00" y1="351.97" x2="334.20" y2="351.97" stroke="#000" stroke-width="1.1" stroke-linecap="butt"/>
<line x1="331.00" y1="336.18" x2="334.20" y2="336.18" stroke="#000" stroke-width="1.1" stroke-linecap="butt"/>
<line x1="331.00" y1="320.40" x2="334.20" y2="320.40" stroke="#000" stroke-width="1.1" stroke-linecap="butt"/>
<text transform="translate(326.66 417.44) rotate(-90) scale(0.982 1)" font-size="8.59" font-weight="bold" fill="#000">0</text>
<text transform="translate(326.66 388.11) rotate(-90) scale(0.982 1)" font-size="8.59" font-weight="bold" fill="#000">40</text>
<text transform="translate(326.66 356.61) rotate(-90) scale(0.982 1)" font-size="8.59" font-weight="bold" fill="#000">80</text>
<text transform="translate(326.66 327.51) rotate(-90) scale(0.982 1)" font-size="8.59" font-weight="bold" fill="#000">120</text>
<text transform="translate(313.15 420.52) rotate(-90) scale(1.048 1)" font-size="10.07" font-weight="normal" fill="#000" stroke="#000" stroke-width="0.30">% CD45.2 chimerism</text>
<text transform="translate(295.61 313.80) scale(0.993 1)" font-size="15.36" font-weight="bold" fill="#000" stroke="#000" stroke-width="0.30">H</text>
<line x1="348.20" y1="339.00" x2="348.20" y2="340.00" stroke="#000" stroke-width="1" stroke-linecap="butt"/>
<line x1="342.60" y1="339.00" x2="353.80" y2="339.00" stroke="#000" stroke-width="1" stroke-linecap="butt"/>
<rect x="340.00" y="340.00" width="16.40" height="75.10" fill="#fc0202" stroke="#000" stroke-width="0.9"/>
<line x1="363.85" y1="348.00" x2="363.85" y2="360.50" stroke="#000" stroke-width="1" stroke-linecap="butt"/>
<line x1="358.25" y1="348.00" x2="369.45" y2="348.00" stroke="#000" stroke-width="1" stroke-linecap="butt"/>
<rect x="356.40" y="360.50" width="14.90" height="54.60" fill="#02f602" stroke="#000" stroke-width="0.9"/>
<line x1="378.80" y1="406.80" x2="378.80" y2="410.00" stroke="#000" stroke-width="1" stroke-linecap="butt"/>
<line x1="373.20" y1="406.80" x2="384.40" y2="406.80" stroke="#000" stroke-width="1" stroke-linecap="butt"/>
<rect x="371.30" y="410.00" width="15.00" height="5.10" fill="#0202cc" stroke="#000" stroke-width="0.9"/>
<line x1="409.00" y1="336.30" x2="409.00" y2="337.20" stroke="#000" stroke-width="1" stroke-linecap="butt"/>
<line x1="403.40" y1="336.30" x2="414.60" y2="336.30" stroke="#000" stroke-width="1" stroke-linecap="butt"/>
<rect x="401.30" y="337.20" width="15.40" height="77.90" fill="#fc0202" stroke="#000" stroke-width="0.9"/>
<line x1="424.35" y1="350.80" x2="424.35" y2="364.50" stroke="#000" stroke-width="1" stroke-linecap="butt"/>
<line x1="418.75" y1="350.80" x2="429.95" y2="350.80" stroke="#000" stroke-width="1" stroke-linecap="butt"/>
<rect x="416.70" y="364.50" width="15.30" height="50.60" fill="#02f602" stroke="#000" stroke-width="0.9"/>
<line x1="439.75" y1="400.50" x2="439.75" y2="406.80" stroke="#000" stroke-width="1" stroke-linecap="butt"/>
<line x1="434.15" y1="400.50" x2="445.35" y2="400.50" stroke="#000" stroke-width="1" stroke-linecap="butt"/>
<rect x="432.00" y="406.80" width="15.50" height="8.30" fill="#0202cc" stroke="#000" stroke-width="0.9"/>
<line x1="470.25" y1="352.20" x2="470.25" y2="353.00" stroke="#000" stroke-width="1" stroke-linecap="butt"/>
<line x1="464.65" y1="352.20" x2="475.85" y2="352.20" stroke="#000" stroke-width="1" stroke-linecap="butt"/>
<rect x="462.50" y="353.00" width="15.50" height="62.10" fill="#fc0202" stroke="#000" stroke-width="0.9"/>
<line x1="485.65" y1="354.50" x2="485.65" y2="362.00" stroke="#000" stroke-width="1" stroke-linecap="butt"/>
<line x1="480.05" y1="354.50" x2="491.25" y2="354.50" stroke="#000" stroke-width="1" stroke-linecap="butt"/>
<rect x="478.00" y="362.00" width="15.30" height="53.10" fill="#02f602" stroke="#000" stroke-width="0.9"/>
<rect x="493.30" y="414.60" width="14.20" height="0.50" fill="#0202cc" stroke="#000" stroke-width="0.9"/>
<text transform="translate(352.61 429.44) scale(1.236 1)" font-size="10.56" font-weight="normal" fill="#000" stroke="#000" stroke-width="0.25">LSK</text>
<text transform="translate(410.05 429.44) scale(1.186 1)" font-size="10.56" font-weight="normal" fill="#000" stroke="#000" stroke-width="0.25">HSC</text>
<text transform="translate(467.81 428.23) scale(1.234 1)" font-size="10.56" font-weight="normal" fill="#000" stroke="#000" stroke-width="0.25">Prog</text>
<polyline points="348.9,330.9 348.9,327.7 379.8,327.7 379.8,330.9" fill="none" stroke="#000" stroke-width="1"/>
<text transform="translate(359.13 328.34) scale(1.498 1)" font-size="9.19" font-weight="bold" fill="#000">**</text>
<polyline points="408.1,330.9 408.1,327.7 439.4,327.7 439.4,330.9" fill="none" stroke="#000" stroke-width="1"/>
<text transform="translate(418.84 328.34) scale(1.385 1)" font-size="9.19" font-weight="bold" fill="#000">**</text>
<polyline points="470,348.7 470,345.5 500,345.5 500,348.7" fill="none" stroke="#000" stroke-width="1"/>
<text transform="translate(480.14 346.04) scale(1.357 1)" font-size="9.19" font-weight="bold" fill="#000">**</text>
<rect x="476.00" y="312.30" width="7.90" height="3.80" fill="#fc0202" stroke="#000" stroke-width="0.8"/>
<text transform="translate(489.11 316.55) scale(1.252 1)" font-size="7.10" font-weight="normal" fill="#000" stroke="#000" stroke-width="0.20">WT</text>
<rect x="476.00" y="320.50" width="7.90" height="4.00" fill="#02f602" stroke="#000" stroke-width="0.8"/>
<text transform="translate(487.94 325.07) scale(1.236 1)" font-size="8.14" font-weight="normal" fill="#000" stroke="#000" stroke-width="0.20">Het</text>
<rect x="476.00" y="328.80" width="7.90" height="3.90" fill="#0202cc" stroke="#000" stroke-width="0.8"/>
<text transform="translate(488.06 333.28) scale(1.161 1)" font-size="7.46" font-weight="normal" fill="#000" stroke="#000" stroke-width="0.20">KO</text>
<text transform="translate(-0.93 313.65) scale(1.093 1)" font-size="14.51" font-weight="bold" fill="#000" stroke="#000" stroke-width="0.30">G</text>
<rect x="26.20" y="334.20" width="76.40" height="83.30" fill="none" stroke="#9a9a9a" stroke-width="0.9"/>
<line x1="26.20" y1="417.50" x2="102.60" y2="417.50" stroke="#666" stroke-width="1" stroke-linecap="butt"/>
<line x1="26.20" y1="344.20" x2="27.70" y2="344.20" stroke="#777" stroke-width="0.8" stroke-linecap="butt"/>
<line x1="26.20" y1="357.70" x2="27.70" y2="357.70" stroke="#777" stroke-width="0.8" stroke-linecap="butt"/>
<line x1="26.20" y1="371.20" x2="27.70" y2="371.20" stroke="#777" stroke-width="0.8" stroke-linecap="butt"/>
<line x1="26.20" y1="384.70" x2="27.70" y2="384.70" stroke="#777" stroke-width="0.8" stroke-linecap="butt"/>
<line x1="26.20" y1="398.20" x2="27.70" y2="398.20" stroke="#777" stroke-width="0.8" stroke-linecap="butt"/>
<line x1="26.20" y1="411.70" x2="27.70" y2="411.70" stroke="#777" stroke-width="0.8" stroke-linecap="butt"/>
<line x1="34.20" y1="417.50" x2="34.20" y2="416.30" stroke="#777" stroke-width="0.8" stroke-linecap="butt"/>
<line x1="45.20" y1="417.50" x2="45.20" y2="416.30" stroke="#777" stroke-width="0.8" stroke-linecap="butt"/>
<line x1="56.20" y1="417.50" x2="56.20" y2="416.30" stroke="#777" stroke-width="0.8" stroke-linecap="butt"/>
<line x1="67.20" y1="417.50" x2="67.20" y2="416.30" stroke="#777" stroke-width="0.8" stroke-linecap="butt"/>
<line x1="78.20" y1="417.50" x2="78.20" y2="416.30" stroke="#777" stroke-width="0.8" stroke-linecap="butt"/>
<line x1="89.20" y1="417.50" x2="89.20" y2="416.30" stroke="#777" stroke-width="0.8" stroke-linecap="butt"/>
<line x1="100.20" y1="417.50" x2="100.20" y2="416.30" stroke="#777" stroke-width="0.8" stroke-linecap="butt"/>
<line x1="29.20" y1="418.30" x2="36.20" y2="418.30" stroke="#555" stroke-width="1" stroke-linecap="butt"/>
<rect x="112.60" y="334.20" width="76.00" height="83.30" fill="none" stroke="#9a9a9a" stroke-width="0.9"/>
<line x1="112.60" y1="417.50" x2="188.60" y2="417.50" stroke="#666" stroke-width="1" stroke-linecap="butt"/>
<line x1="112.60" y1="344.20" x2="114.10" y2="344.20" stroke="#777" stroke-width="0.8" stroke-linecap="butt"/>
<line x1="112.60" y1="357.70" x2="114.10" y2="357.70" stroke="#777" stroke-width="0.8" stroke-linecap="butt"/>
<line x1="112.60" y1="371.20" x2="114.10" y2="371.20" stroke="#777" stroke-width="0.8" stroke-linecap="butt"/>
<line x1="112.60" y1="384.70" x2="114.10" y2="384.70" stroke="#777" stroke-width="0.8" stroke-linecap="butt"/>
<line x1="112.60" y1="398.20" x2="114.10" y2="398.20" stroke="#777" stroke-width="0.8" stroke-linecap="butt"/>
<line x1="112.60" y1="411.70" x2="114.10" y2="411.70" stroke="#777" stroke-width="0.8" stroke-linecap="butt"/>
<line x1="120.60" y1="417.50" x2="120.60" y2="416.30" stroke="#777" stroke-width="0.8" stroke-linecap="butt"/>
<line x1="131.60" y1="417.50" x2="131.60" y2="416.30" stroke="#777" stroke-width="0.8" stroke-linecap="butt"/>
<line x1="142.60" y1="417.50" x2="142.60" y2="416.30" stroke="#777" stroke-width="0.8" stroke-linecap="butt"/>
<line x1="153.60" y1="417.50" x2="153.60" y2="416.30" stroke="#777" stroke-width="0.8" stroke-linecap="butt"/>
<line x1="164.60" y1="417.50" x2="164.60" y2="416.30" stroke="#777" stroke-width="0.8" stroke-linecap="butt"/>
<line x1="175.60" y1="417.50" x2="175.60" y2="416.30" stroke="#777" stroke-width="0.8" stroke-linecap="butt"/>
<line x1="186.60" y1="417.50" x2="186.60" y2="416.30" stroke="#777" stroke-width="0.8" stroke-linecap="butt"/>
<line x1="115.60" y1="418.30" x2="122.60" y2="418.30" stroke="#555" stroke-width="1" stroke-linecap="butt"/>
<rect x="200.00" y="334.20" width="76.00" height="83.30" fill="none" stroke="#9a9a9a" stroke-width="0.9"/>
<line x1="200.00" y1="417.50" x2="276.00" y2="417.50" stroke="#666" stroke-width="1" stroke-linecap="butt"/>
<line x1="200.00" y1="344.20" x2="201.50" y2="344.20" stroke="#777" stroke-width="0.8" stroke-linecap="butt"/>
<line x1="200.00" y1="357.70" x2="201.50" y2="357.70" stroke="#777" stroke-width="0.8" stroke-linecap="butt"/>
<line x1="200.00" y1="371.20" x2="201.50" y2="371.20" stroke="#777" stroke-width="0.8" stroke-linecap="butt"/>
<line x1="200.00" y1="384.70" x2="201.50" y2="384.70" stroke="#777" stroke-width="0.8" stroke-linecap="butt"/>
<line x1="200.00" y1="398.20" x2="201.50" y2="398.20" stroke="#777" stroke-width="0.8" stroke-linecap="butt"/>
<line x1="200.00" y1="411.70" x2="201.50" y2="411.70" stroke="#777" stroke-width="0.8" stroke-linecap="butt"/>
<line x1="208.00" y1="417.50" x2="208.00" y2="416.30" stroke="#777" stroke-width="0.8" stroke-linecap="butt"/>
<line x1="219.00" y1="417.50" x2="219.00" y2="416.30" stroke="#777" stroke-width="0.8" stroke-linecap="butt"/>
<line x1="230.00" y1="417.50" x2="230.00" y2="416.30" stroke="#777" stroke-width="0.8" stroke-linecap="butt"/>
<line x1="241.00" y1="417.50" x2="241.00" y2="416.30" stroke="#777" stroke-width="0.8" stroke-linecap="butt"/>
<line x1="252.00" y1="417.50" x2="252.00" y2="416.30" stroke="#777" stroke-width="0.8" stroke-linecap="butt"/>
<line x1="263.00" y1="417.50" x2="263.00" y2="416.30" stroke="#777" stroke-width="0.8" stroke-linecap="butt"/>
<line x1="274.00" y1="417.50" x2="274.00" y2="416.30" stroke="#777" stroke-width="0.8" stroke-linecap="butt"/>
<line x1="203.00" y1="418.30" x2="210.00" y2="418.30" stroke="#555" stroke-width="1" stroke-linecap="butt"/>
<text transform="translate(57.90 323.65) scale(0.864 1)" font-size="10.43" font-weight="normal" fill="#000" stroke="#000" stroke-width="0.35">WT</text>
<text transform="translate(142.90 323.84) scale(0.876 1)" font-size="10.71" font-weight="normal" fill="#000" stroke="#000" stroke-width="0.35">Het</text>
<text transform="translate(230.78 323.85) scale(0.825 1)" font-size="10.14" font-weight="normal" fill="#000" stroke="#000" stroke-width="0.35">KO</text>
<ellipse cx="75.8" cy="375.8" rx="3.8" ry="5.5" fill="none" stroke="#8e9ad8" stroke-width="0.6" stroke-dasharray="1 0.8" opacity="0.45"/>
<ellipse cx="75.8" cy="375.8" rx="2.2" ry="3.5" fill="none" stroke="#8e9ad8" stroke-width="0.6" stroke-dasharray="1 0.8" opacity="0.45"/>
<circle cx="72.7" cy="371.6" r="0.55" fill="#8e9ad8" opacity="0.55"/>
<circle cx="77.2" cy="369.3" r="0.55" fill="#8e9ad8" opacity="0.55"/>
<circle cx="75.5" cy="369.1" r="0.55" fill="#8e9ad8" opacity="0.55"/>
<circle cx="79.2" cy="376.7" r="0.55" fill="#8e9ad8" opacity="0.55"/>
<circle cx="79.6" cy="373.8" r="0.55" fill="#8e9ad8" opacity="0.55"/>
<circle cx="77.2" cy="374.4" r="0.55" fill="#8e9ad8" opacity="0.55"/>
<circle cx="73.4" cy="376.5" r="0.55" fill="#8e9ad8" opacity="0.55"/>
<circle cx="72.2" cy="374.4" r="0.55" fill="#8e9ad8" opacity="0.55"/>
<circle cx="78.1" cy="376.1" r="0.55" fill="#8e9ad8" opacity="0.55"/>
<circle cx="74.9" cy="382.4" r="0.55" fill="#8e9ad8" opacity="0.55"/>
<circle cx="76.0" cy="373.0" r="0.55" fill="#8e9ad8" opacity="0.55"/>
<circle cx="76.3" cy="373.3" r="0.55" fill="#8e9ad8" opacity="0.55"/>
<circle cx="74.5" cy="374.1" r="0.55" fill="#8e9ad8" opacity="0.55"/>
<circle cx="80.5" cy="375.9" r="0.55" fill="#8e9ad8" opacity="0.55"/>
<circle cx="76.4" cy="378.9" r="0.55" fill="#8e9ad8" opacity="0.55"/>
<circle cx="80.4" cy="375.1" r="0.55" fill="#8e9ad8" opacity="0.55"/>
<circle cx="74.6" cy="382.5" r="0.55" fill="#8e9ad8" opacity="0.55"/>
<circle cx="71.8" cy="374.4" r="0.55" fill="#8e9ad8" opacity="0.55"/>
<circle cx="77.2" cy="382.3" r="0.55" fill="#8e9ad8" opacity="0.55"/>
<circle cx="74.0" cy="369.4" r="0.55" fill="#8e9ad8" opacity="0.55"/>
<circle cx="77.9" cy="373.4" r="0.55" fill="#8e9ad8" opacity="0.55"/>
<circle cx="74.5" cy="378.0" r="0.55" fill="#8e9ad8" opacity="0.55"/>
<circle cx="76.6" cy="377.2" r="0.55" fill="#8e9ad8" opacity="0.55"/>
<circle cx="74.6" cy="381.0" r="0.55" fill="#8e9ad8" opacity="0.55"/>
<circle cx="79.9" cy="375.9" r="0.55" fill="#8e9ad8" opacity="0.55"/>
<circle cx="74.3" cy="379.1" r="0.55" fill="#8e9ad8" opacity="0.55"/>
<circle cx="77.2" cy="371.4" r="0.55" fill="#8e9ad8" opacity="0.55"/>
<circle cx="74.4" cy="380.2" r="0.55" fill="#8e9ad8" opacity="0.55"/>
<circle cx="75.5" cy="374.2" r="0.55" fill="#8e9ad8" opacity="0.55"/>
<circle cx="76.5" cy="375.6" r="0.55" fill="#8e9ad8" opacity="0.55"/>
<ellipse cx="70.6" cy="396.5" rx="3.8" ry="5.5" fill="none" stroke="#8e9ad8" stroke-width="0.6" stroke-dasharray="1 0.8" opacity="0.45"/>
<ellipse cx="70.6" cy="396.5" rx="2.2" ry="3.5" fill="none" stroke="#8e9ad8" stroke-width="0.6" stroke-dasharray="1 0.8" opacity="0.45"/>
<circle cx="70.6" cy="390.1" r="0.55" fill="#8e9ad8" opacity="0.55"/>
<circle cx="75.0" cy="397.2" r="0.55" fill="#8e9ad8" opacity="0.55"/>
<circle cx="68.1" cy="400.5" r="0.55" fill="#8e9ad8" opacity="0.55"/>
<circle cx="71.7" cy="396.6" r="0.55" fill="#8e9ad8" opacity="0.55"/>
<circle cx="72.7" cy="402.7" r="0.55" fill="#8e9ad8" opacity="0.55"/>
<circle cx="72.0" cy="402.2" r="0.55" fill="#8e9ad8" opacity="0.55"/>
<circle cx="75.0" cy="393.6" r="0.55" fill="#8e9ad8" opacity="0.55"/>
<circle cx="68.9" cy="400.0" r="0.55" fill="#8e9ad8" opacity="0.55"/>
<circle cx="66.2" cy="395.5" r="0.55" fill="#8e9ad8" opacity="0.55"/>
<circle cx="74.0" cy="400.3" r="0.55" fill="#8e9ad8" opacity="0.55"/>
<circle cx="72.0" cy="390.3" r="0.55" fill="#8e9ad8" opacity="0.55"/>
<circle cx="75.3" cy="398.1" r="0.55" fill="#8e9ad8" opacity="0.55"/>
<circle cx="73.1" cy="398.7" r="0.55" fill="#8e9ad8" opacity="0.55"/>
<circle cx="66.9" cy="392.2" r="0.55" fill="#8e9ad8" opacity="0.55"/>
<circle cx="68.0" cy="402.2" r="0.55" fill="#8e9ad8" opacity="0.55"/>
<circle cx="67.9" cy="395.4" r="0.55" fill="#8e9ad8" opacity="0.55"/>
<circle cx="69.7" cy="399.2" r="0.55" fill="#8e9ad8" opacity="0.55"/>
<circle cx="72.3" cy="397.8" r="0.55" fill="#8e9ad8" opacity="0.55"/>
<circle cx="68.7" cy="390.0" r="0.55" fill="#8e9ad8" opacity="0.55"/>
<circle cx="71.2" cy="397.8" r="0.55" fill="#8e9ad8" opacity="0.55"/>
<circle cx="74.2" cy="396.1" r="0.55" fill="#8e9ad8" opacity="0.55"/>
<circle cx="68.6" cy="398.4" r="0.55" fill="#8e9ad8" opacity="0.55"/>
<circle cx="66.8" cy="393.0" r="0.55" fill="#8e9ad8" opacity="0.55"/>
<circle cx="67.5" cy="397.8" r="0.55" fill="#8e9ad8" opacity="0.55"/>
<circle cx="75.1" cy="398.8" r="0.55" fill="#8e9ad8" opacity="0.55"/>
<circle cx="74.0" cy="397.5" r="0.55" fill="#8e9ad8" opacity="0.55"/>
<circle cx="71.6" cy="394.4" r="0.55" fill="#8e9ad8" opacity="0.55"/>
<circle cx="70.0" cy="389.7" r="0.55" fill="#8e9ad8" opacity="0.55"/>
<circle cx="67.6" cy="392.0" r="0.55" fill="#8e9ad8" opacity="0.55"/>
<circle cx="73.2" cy="399.4" r="0.55" fill="#8e9ad8" opacity="0.55"/>
<ellipse cx="161" cy="374.5" rx="4.5" ry="6" fill="none" stroke="#8e9ad8" stroke-width="0.6" stroke-dasharray="1 0.8" opacity="0.45"/>
<ellipse cx="161" cy="374.5" rx="2.5" ry="3.5" fill="none" stroke="#8e9ad8" stroke-width="0.6" stroke-dasharray="1 0.8" opacity="0.45"/>
<circle cx="164.0" cy="380.1" r="0.55" fill="#8e9ad8" opacity="0.55"/>
<circle cx="160.0" cy="379.4" r="0.55" fill="#8e9ad8" opacity="0.55"/>
<circle cx="166.1" cy="374.5" r="0.55" fill="#8e9ad8" opacity="0.55"/>
<circle cx="164.7" cy="373.7" r="0.55" fill="#8e9ad8" opacity="0.55"/>
<circle cx="156.3" cy="375.0" r="0.55" fill="#8e9ad8" opacity="0.55"/>
<circle cx="158.1" cy="375.0" r="0.55" fill="#8e9ad8" opacity="0.55"/>
<circle cx="159.3" cy="376.1" r="0.55" fill="#8e9ad8" opacity="0.55"/>
<circle cx="157.1" cy="379.7" r="0.55" fill="#8e9ad8" opacity="0.55"/>
<circle cx="165.2" cy="373.0" r="0.55" fill="#8e9ad8" opacity="0.55"/>
<circle cx="157.8" cy="374.5" r="0.55" fill="#8e9ad8" opacity="0.55"/>
<circle cx="163.4" cy="376.6" r="0.55" fill="#8e9ad8" opacity="0.55"/>
<circle cx="162.0" cy="367.7" r="0.55" fill="#8e9ad8" opacity="0.55"/>
<circle cx="157.9" cy="379.6" r="0.55" fill="#8e9ad8" opacity="0.55"/>
<circle cx="161.7" cy="368.3" r="0.55" fill="#8e9ad8" opacity="0.55"/>
<circle cx="158.5" cy="368.9" r="0.55" fill="#8e9ad8" opacity="0.55"/>
<circle cx="158.0" cy="379.3" r="0.55" fill="#8e9ad8" opacity="0.55"/>
<circle cx="160.3" cy="379.6" r="0.55" fill="#8e9ad8" opacity="0.55"/>
<circle cx="161.6" cy="368.3" r="0.55" fill="#8e9ad8" opacity="0.55"/>
<circle cx="159.5" cy="381.5" r="0.55" fill="#8e9ad8" opacity="0.55"/>
<circle cx="158.5" cy="369.9" r="0.55" fill="#8e9ad8" opacity="0.55"/>
<circle cx="165.1" cy="374.9" r="0.55" fill="#8e9ad8" opacity="0.55"/>
<circle cx="161.0" cy="380.6" r="0.55" fill="#8e9ad8" opacity="0.55"/>
<circle cx="156.2" cy="376.1" r="0.55" fill="#8e9ad8" opacity="0.55"/>
<circle cx="158.0" cy="369.1" r="0.55" fill="#8e9ad8" opacity="0.55"/>
<circle cx="158.5" cy="379.4" r="0.55" fill="#8e9ad8" opacity="0.55"/>
<circle cx="160.6" cy="367.7" r="0.55" fill="#8e9ad8" opacity="0.55"/>
<circle cx="158.0" cy="380.1" r="0.55" fill="#8e9ad8" opacity="0.55"/>
<circle cx="164.1" cy="370.0" r="0.55" fill="#8e9ad8" opacity="0.55"/>
<circle cx="166.3" cy="373.4" r="0.55" fill="#8e9ad8" opacity="0.55"/>
<circle cx="157.0" cy="373.9" r="0.55" fill="#8e9ad8" opacity="0.55"/>
<ellipse cx="160" cy="394.5" rx="4.5" ry="6" fill="none" stroke="#8e9ad8" stroke-width="0.6" stroke-dasharray="1 0.8" opacity="0.45"/>
<ellipse cx="160" cy="394.5" rx="2.5" ry="3.5" fill="none" stroke="#8e9ad8" stroke-width="0.6" stroke-dasharray="1 0.8" opacity="0.45"/>
<circle cx="162.5" cy="400.4" r="0.55" fill="#8e9ad8" opacity="0.55"/>
<circle cx="163.5" cy="392.5" r="0.55" fill="#8e9ad8" opacity="0.55"/>
<circle cx="158.3" cy="388.6" r="0.55" fill="#8e9ad8" opacity="0.55"/>
<circle cx="159.7" cy="391.4" r="0.55" fill="#8e9ad8" opacity="0.55"/>
<circle cx="160.8" cy="388.9" r="0.55" fill="#8e9ad8" opacity="0.55"/>
<circle cx="158.2" cy="390.3" r="0.55" fill="#8e9ad8" opacity="0.55"/>
<circle cx="156.5" cy="389.9" r="0.55" fill="#8e9ad8" opacity="0.55"/>
<circle cx="157.0" cy="389.7" r="0.55" fill="#8e9ad8" opacity="0.55"/>
<circle cx="162.2" cy="395.0" r="0.55" fill="#8e9ad8" opacity="0.55"/>
<circle cx="155.9" cy="396.7" r="0.55" fill="#8e9ad8" opacity="0.55"/>
<circle cx="160.9" cy="400.6" r="0.55" fill="#8e9ad8" opacity="0.55"/>
<circle cx="159.2" cy="393.4" r="0.55" fill="#8e9ad8" opacity="0.55"/>
<circle cx="157.4" cy="395.1" r="0.55" fill="#8e9ad8" opacity="0.55"/>
<circle cx="161.9" cy="395.4" r="0.55" fill="#8e9ad8" opacity="0.55"/>
<circle cx="159.0" cy="397.4" r="0.55" fill="#8e9ad8" opacity="0.55"/>
<circle cx="160.4" cy="395.8" r="0.55" fill="#8e9ad8" opacity="0.55"/>
<circle cx="156.7" cy="395.5" r="0.55" fill="#8e9ad8" opacity="0.55"/>
<circle cx="156.8" cy="390.8" r="0.55" fill="#8e9ad8" opacity="0.55"/>
<circle cx="160.4" cy="401.6" r="0.55" fill="#8e9ad8" opacity="0.55"/>
<circle cx="163.5" cy="394.5" r="0.55" fill="#8e9ad8" opacity="0.55"/>
<circle cx="159.4" cy="399.2" r="0.55" fill="#8e9ad8" opacity="0.55"/>
<circle cx="163.8" cy="399.0" r="0.55" fill="#8e9ad8" opacity="0.55"/>
<circle cx="159.3" cy="395.5" r="0.55" fill="#8e9ad8" opacity="0.55"/>
<circle cx="158.7" cy="393.0" r="0.55" fill="#8e9ad8" opacity="0.55"/>
<circle cx="156.9" cy="393.3" r="0.55" fill="#8e9ad8" opacity="0.55"/>
<circle cx="155.3" cy="390.9" r="0.55" fill="#8e9ad8" opacity="0.55"/>
<circle cx="161.5" cy="390.1" r="0.55" fill="#8e9ad8" opacity="0.55"/>
<circle cx="161.7" cy="389.0" r="0.55" fill="#8e9ad8" opacity="0.55"/>
<circle cx="158.6" cy="396.6" r="0.55" fill="#8e9ad8" opacity="0.55"/>
<circle cx="156.6" cy="391.3" r="0.55" fill="#8e9ad8" opacity="0.55"/>
<ellipse cx="241" cy="352.5" rx="6" ry="2.2" fill="none" stroke="#8e9ad8" stroke-width="0.6" stroke-dasharray="1 0.8" opacity="0.45"/>
<circle cx="248.3" cy="352.7" r="0.55" fill="#8e9ad8" opacity="0.55"/>
<circle cx="230.0" cy="352.4" r="0.55" fill="#8e9ad8" opacity="0.55"/>
<circle cx="236.3" cy="353.4" r="0.55" fill="#8e9ad8" opacity="0.55"/>
<circle cx="243.6" cy="354.9" r="0.55" fill="#8e9ad8" opacity="0.55"/>
<circle cx="232.3" cy="352.8" r="0.55" fill="#8e9ad8" opacity="0.55"/>
<circle cx="227.6" cy="351.4" r="0.55" fill="#8e9ad8" opacity="0.55"/>
<circle cx="229.9" cy="354.9" r="0.55" fill="#8e9ad8" opacity="0.55"/>
<circle cx="237.0" cy="355.1" r="0.55" fill="#8e9ad8" opacity="0.55"/>
<circle cx="243.9" cy="353.2" r="0.55" fill="#8e9ad8" opacity="0.55"/>
<circle cx="248.1" cy="352.8" r="0.55" fill="#8e9ad8" opacity="0.55"/>
<circle cx="230.5" cy="352.6" r="0.55" fill="#8e9ad8" opacity="0.55"/>
<circle cx="245.1" cy="353.2" r="0.55" fill="#8e9ad8" opacity="0.55"/>
<circle cx="229.7" cy="354.4" r="0.55" fill="#8e9ad8" opacity="0.55"/>
<circle cx="245.1" cy="353.3" r="0.55" fill="#8e9ad8" opacity="0.55"/>
<circle cx="234.0" cy="355.5" r="0.55" fill="#8e9ad8" opacity="0.55"/>
<circle cx="243.4" cy="355.1" r="0.55" fill="#8e9ad8" opacity="0.55"/>
<circle cx="229.4" cy="354.1" r="0.55" fill="#8e9ad8" opacity="0.55"/>
<circle cx="238.3" cy="350.8" r="0.55" fill="#8e9ad8" opacity="0.55"/>
<circle cx="245.5" cy="353.7" r="0.55" fill="#8e9ad8" opacity="0.55"/>
<circle cx="234.1" cy="356.4" r="0.55" fill="#8e9ad8" opacity="0.55"/>
<circle cx="237.3" cy="352.0" r="0.55" fill="#8e9ad8" opacity="0.55"/>
<circle cx="235.4" cy="354.7" r="0.55" fill="#8e9ad8" opacity="0.55"/>
<circle cx="243.0" cy="353.4" r="0.55" fill="#8e9ad8" opacity="0.55"/>
<circle cx="229.0" cy="352.2" r="0.55" fill="#8e9ad8" opacity="0.55"/>
<circle cx="229.8" cy="351.7" r="0.55" fill="#8e9ad8" opacity="0.55"/>
<circle cx="235.8" cy="352.5" r="0.55" fill="#8e9ad8" opacity="0.55"/>
<circle cx="236.5" cy="351.9" r="0.55" fill="#8e9ad8" opacity="0.55"/>
<circle cx="228.6" cy="353.1" r="0.55" fill="#8e9ad8" opacity="0.55"/>
<circle cx="233.3" cy="355.6" r="0.55" fill="#8e9ad8" opacity="0.55"/>
<circle cx="228.4" cy="353.9" r="0.55" fill="#8e9ad8" opacity="0.55"/>
<circle cx="235.7" cy="351.2" r="0.55" fill="#8e9ad8" opacity="0.55"/>
<circle cx="242.4" cy="353.8" r="0.55" fill="#8e9ad8" opacity="0.55"/>
<circle cx="224.0" cy="354.3" r="0.55" fill="#8e9ad8" opacity="0.55"/>
<circle cx="243.3" cy="352.1" r="0.55" fill="#8e9ad8" opacity="0.55"/>
<circle cx="247.4" cy="353.7" r="0.55" fill="#8e9ad8" opacity="0.55"/>
<circle cx="227.1" cy="354.5" r="0.55" fill="#8e9ad8" opacity="0.55"/>
<circle cx="233.3" cy="351.2" r="0.55" fill="#8e9ad8" opacity="0.55"/>
<circle cx="223.7" cy="353.8" r="0.55" fill="#8e9ad8" opacity="0.55"/>
<circle cx="229.9" cy="354.7" r="0.55" fill="#8e9ad8" opacity="0.55"/>
<circle cx="239.4" cy="352.4" r="0.55" fill="#8e9ad8" opacity="0.55"/>
<circle cx="232.6" cy="356.1" r="0.55" fill="#8e9ad8" opacity="0.55"/>
<circle cx="246.9" cy="354.6" r="0.55" fill="#8e9ad8" opacity="0.55"/>
<circle cx="233.1" cy="351.6" r="0.55" fill="#8e9ad8" opacity="0.55"/>
<circle cx="233.4" cy="356.1" r="0.55" fill="#8e9ad8" opacity="0.55"/>
<circle cx="240.2" cy="352.9" r="0.55" fill="#8e9ad8" opacity="0.55"/>
<rect x="37.30" y="338.10" width="37.10" height="23.60" fill="none" stroke="#e0a0e0" stroke-width="0.8"/>
<text transform="translate(49.14 354.17) scale(0.885 1)" font-size="7.71" font-weight="bold" fill="#cc28cc">1.57</text>
<rect x="60.70" y="365.00" width="29.40" height="40.50" fill="none" stroke="#e0a0e0" stroke-width="0.8"/>
<text transform="translate(67.50 389.07) scale(0.847 1)" font-size="8.45" font-weight="bold" fill="#cc28cc">95.1</text>
<rect x="124.70" y="338.20" width="37.30" height="23.70" fill="none" stroke="#e0a0e0" stroke-width="0.8"/>
<text transform="translate(136.13 353.97) scale(0.947 1)" font-size="7.61" font-weight="bold" fill="#cc28cc">8.22</text>
<rect x="147.30" y="365.10" width="29.70" height="40.40" fill="none" stroke="#e0a0e0" stroke-width="0.8"/>
<text transform="translate(154.94 388.97) scale(0.874 1)" font-size="8.17" font-weight="bold" fill="#cc28cc">88.5</text>
<rect x="211.30" y="338.20" width="37.30" height="23.70" fill="none" stroke="#e0a0e0" stroke-width="0.8"/>
<text transform="translate(222.38 353.97) scale(0.974 1)" font-size="7.89" font-weight="bold" fill="#cc28cc">93.6</text>
<rect x="234.20" y="365.10" width="29.40" height="40.40" fill="none" stroke="#e0a0e0" stroke-width="0.8"/>
<text transform="translate(242.31 388.97) scale(0.831 1)" font-size="8.17" font-weight="bold" fill="#cc28cc">2.51</text>
<line x1="17.60" y1="426.00" x2="17.60" y2="373.00" stroke="#111" stroke-width="1.3" stroke-linecap="butt"/>
<polygon points="17.6,365.8 14.3,374.6 20.9,374.6" fill="#111"/>
<line x1="17.00" y1="425.90" x2="237.00" y2="425.90" stroke="#111" stroke-width="1.3" stroke-linecap="butt"/>
<polygon points="244.9,425.9 235.8,422.5 235.8,429.3" fill="#111"/>
<text transform="translate(20.96 360.88) rotate(-90) scale(1.133 1)" font-size="9.30" font-weight="normal" fill="#000" stroke="#000" stroke-width="0.35">CD45.1</text>
<text transform="translate(252.97 430.05) scale(0.993 1)" font-size="9.58" font-weight="normal" fill="#000" stroke="#000" stroke-width="0.10">CD45.2</text>
<line x1="56.20" y1="473.65" x2="56.20" y2="570.85" stroke="#333" stroke-width="1.1" stroke-linecap="butt"/>
<line x1="52.20" y1="570.30" x2="56.20" y2="570.30" stroke="#333" stroke-width="1.1" stroke-linecap="butt"/>
<line x1="52.20" y1="551.08" x2="56.20" y2="551.08" stroke="#333" stroke-width="1.1" stroke-linecap="butt"/>
<line x1="52.20" y1="531.86" x2="56.20" y2="531.86" stroke="#333" stroke-width="1.1" stroke-linecap="butt"/>
<line x1="52.20" y1="512.64" x2="56.20" y2="512.64" stroke="#333" stroke-width="1.1" stroke-linecap="butt"/>
<line x1="52.20" y1="493.42" x2="56.20" y2="493.42" stroke="#333" stroke-width="1.1" stroke-linecap="butt"/>
<line x1="52.20" y1="474.20" x2="56.20" y2="474.20" stroke="#333" stroke-width="1.1" stroke-linecap="butt"/>
<line x1="61.05" y1="573.90" x2="147.45" y2="573.90" stroke="#333" stroke-width="1.1" stroke-linecap="butt"/>
<line x1="61.60" y1="573.90" x2="61.60" y2="577.70" stroke="#333" stroke-width="1.1" stroke-linecap="butt"/>
<line x1="90.00" y1="573.90" x2="90.00" y2="577.70" stroke="#333" stroke-width="1.1" stroke-linecap="butt"/>
<line x1="118.30" y1="573.90" x2="118.30" y2="577.70" stroke="#333" stroke-width="1.1" stroke-linecap="butt"/>
<line x1="146.90" y1="573.90" x2="146.90" y2="577.70" stroke="#333" stroke-width="1.1" stroke-linecap="butt"/>
<text transform="translate(48.77 572.44) rotate(-90) scale(0.921 1)" font-size="8.31" font-weight="normal" fill="#000" stroke="#000" stroke-width="0.25">0</text>
<text transform="translate(48.77 555.38) rotate(-90) scale(0.921 1)" font-size="8.31" font-weight="normal" fill="#000" stroke="#000" stroke-width="0.25">20</text>
<text transform="translate(48.77 536.05) rotate(-90) scale(0.921 1)" font-size="8.31" font-weight="normal" fill="#000" stroke="#000" stroke-width="0.25">40</text>
<text transform="translate(48.77 516.94) rotate(-90) scale(0.921 1)" font-size="8.31" font-weight="normal" fill="#000" stroke="#000" stroke-width="0.25">60</text>
<text transform="translate(48.77 497.71) rotate(-90) scale(0.921 1)" font-size="8.31" font-weight="normal" fill="#000" stroke="#000" stroke-width="0.25">80</text>
<text transform="translate(48.77 480.72) rotate(-90) scale(0.921 1)" font-size="8.31" font-weight="normal" fill="#000" stroke="#000" stroke-width="0.25">100</text>
<text transform="translate(59.47 587.81) scale(0.893 1)" font-size="8.43" font-weight="bold" fill="#000">4</text>
<text transform="translate(87.91 587.81) scale(0.893 1)" font-size="8.43" font-weight="bold" fill="#000">8</text>
<text transform="translate(114.05 587.85) scale(0.893 1)" font-size="8.43" font-weight="bold" fill="#000">12</text>
<text transform="translate(142.63 587.81) scale(0.893 1)" font-size="8.43" font-weight="bold" fill="#000">16</text>
<text transform="translate(92.45 599.06) scale(1.099 1)" font-size="9.39" font-weight="normal" fill="#000" stroke="#000" stroke-width="0.30">weeks</text>
<text transform="translate(37.36 568.81) rotate(-90) scale(1.140 1)" font-size="9.12" font-weight="normal" fill="#000" stroke="#000" stroke-width="0.22">% CD45.2 chimerism</text>
<text transform="translate(92.99 458.53) scale(1.136 1)" font-size="11.56" font-weight="normal" fill="#000" stroke="#000" stroke-width="0.10">Total</text>
<text transform="translate(0.57 451.90) scale(0.634 1)" font-size="15.22" font-weight="bold" fill="#000" stroke="#000" stroke-width="0.30">I</text>
<polyline points="61.60,499.60 90.00,483.60 118.30,490.70 146.90,492.20" fill="none" stroke="#e01818" stroke-width="2.0" stroke-linejoin="round"/>
<line x1="61.60" y1="497.80" x2="61.60" y2="501.40" stroke="#e01818" stroke-width="1.8" stroke-linecap="butt"/>
<line x1="55.60" y1="497.80" x2="67.60" y2="497.80" stroke="#e01818" stroke-width="1.8" stroke-linecap="butt"/>
<line x1="55.60" y1="501.40" x2="67.60" y2="501.40" stroke="#e01818" stroke-width="1.8" stroke-linecap="butt"/>
<line x1="90.00" y1="482.50" x2="90.00" y2="484.70" stroke="#e01818" stroke-width="1.8" stroke-linecap="butt"/>
<line x1="84.00" y1="482.50" x2="96.00" y2="482.50" stroke="#e01818" stroke-width="1.8" stroke-linecap="butt"/>
<line x1="84.00" y1="484.70" x2="96.00" y2="484.70" stroke="#e01818" stroke-width="1.8" stroke-linecap="butt"/>
<line x1="118.30" y1="489.70" x2="118.30" y2="491.70" stroke="#e01818" stroke-width="1.8" stroke-linecap="butt"/>
<line x1="112.30" y1="489.70" x2="124.30" y2="489.70" stroke="#e01818" stroke-width="1.8" stroke-linecap="butt"/>
<line x1="112.30" y1="491.70" x2="124.30" y2="491.70" stroke="#e01818" stroke-width="1.8" stroke-linecap="butt"/>
<line x1="146.90" y1="489.70" x2="146.90" y2="494.80" stroke="#e01818" stroke-width="1.8" stroke-linecap="butt"/>
<line x1="140.90" y1="489.70" x2="152.90" y2="489.70" stroke="#e01818" stroke-width="1.8" stroke-linecap="butt"/>
<line x1="140.90" y1="494.80" x2="152.90" y2="494.80" stroke="#e01818" stroke-width="1.8" stroke-linecap="butt"/>
<polyline points="61.60,557.80 90.00,550.00 118.30,550.00 146.90,552.50" fill="none" stroke="#33dd33" stroke-width="2.0" stroke-linejoin="round"/>
<line x1="61.60" y1="556.80" x2="61.60" y2="558.80" stroke="#33dd33" stroke-width="1.8" stroke-linecap="butt"/>
<line x1="55.60" y1="556.80" x2="67.60" y2="556.80" stroke="#33dd33" stroke-width="1.8" stroke-linecap="butt"/>
<line x1="55.60" y1="558.80" x2="67.60" y2="558.80" stroke="#33dd33" stroke-width="1.8" stroke-linecap="butt"/>
<line x1="90.00" y1="546.20" x2="90.00" y2="552.90" stroke="#33dd33" stroke-width="1.8" stroke-linecap="butt"/>
<line x1="84.00" y1="546.20" x2="96.00" y2="546.20" stroke="#33dd33" stroke-width="1.8" stroke-linecap="butt"/>
<line x1="84.00" y1="552.90" x2="96.00" y2="552.90" stroke="#33dd33" stroke-width="1.8" stroke-linecap="butt"/>
<line x1="118.30" y1="546.20" x2="118.30" y2="552.90" stroke="#33dd33" stroke-width="1.8" stroke-linecap="butt"/>
<line x1="112.30" y1="546.20" x2="124.30" y2="546.20" stroke="#33dd33" stroke-width="1.8" stroke-linecap="butt"/>
<line x1="112.30" y1="552.90" x2="124.30" y2="552.90" stroke="#33dd33" stroke-width="1.8" stroke-linecap="butt"/>
<line x1="146.90" y1="547.80" x2="146.90" y2="558.40" stroke="#33dd33" stroke-width="1.8" stroke-linecap="butt"/>
<line x1="140.90" y1="547.80" x2="152.90" y2="547.80" stroke="#33dd33" stroke-width="1.8" stroke-linecap="butt"/>
<line x1="140.90" y1="558.40" x2="152.90" y2="558.40" stroke="#33dd33" stroke-width="1.8" stroke-linecap="butt"/>
<line x1="211.60" y1="473.65" x2="211.60" y2="570.85" stroke="#333" stroke-width="1.1" stroke-linecap="butt"/>
<line x1="207.60" y1="570.30" x2="211.60" y2="570.30" stroke="#333" stroke-width="1.1" stroke-linecap="butt"/>
<line x1="207.60" y1="551.08" x2="211.60" y2="551.08" stroke="#333" stroke-width="1.1" stroke-linecap="butt"/>
<line x1="207.60" y1="531.86" x2="211.60" y2="531.86" stroke="#333" stroke-width="1.1" stroke-linecap="butt"/>
<line x1="207.60" y1="512.64" x2="211.60" y2="512.64" stroke="#333" stroke-width="1.1" stroke-linecap="butt"/>
<line x1="207.60" y1="493.42" x2="211.60" y2="493.42" stroke="#333" stroke-width="1.1" stroke-linecap="butt"/>
<line x1="207.60" y1="474.20" x2="211.60" y2="474.20" stroke="#333" stroke-width="1.1" stroke-linecap="butt"/>
<line x1="216.55" y1="573.90" x2="303.25" y2="573.90" stroke="#333" stroke-width="1.1" stroke-linecap="butt"/>
<line x1="217.10" y1="573.90" x2="217.10" y2="577.70" stroke="#333" stroke-width="1.1" stroke-linecap="butt"/>
<line x1="245.60" y1="573.90" x2="245.60" y2="577.70" stroke="#333" stroke-width="1.1" stroke-linecap="butt"/>
<line x1="273.80" y1="573.90" x2="273.80" y2="577.70" stroke="#333" stroke-width="1.1" stroke-linecap="butt"/>
<line x1="302.70" y1="573.90" x2="302.70" y2="577.70" stroke="#333" stroke-width="1.1" stroke-linecap="butt"/>
<text transform="translate(204.67 572.44) rotate(-90) scale(0.970 1)" font-size="7.89" font-weight="normal" fill="#000" stroke="#000" stroke-width="0.25">0</text>
<text transform="translate(204.67 555.38) rotate(-90) scale(0.970 1)" font-size="7.89" font-weight="normal" fill="#000" stroke="#000" stroke-width="0.25">20</text>
<text transform="translate(204.67 536.05) rotate(-90) scale(0.970 1)" font-size="7.89" font-weight="normal" fill="#000" stroke="#000" stroke-width="0.25">40</text>
<text transform="translate(204.67 516.94) rotate(-90) scale(0.970 1)" font-size="7.89" font-weight="normal" fill="#000" stroke="#000" stroke-width="0.25">60</text>
<text transform="translate(204.67 497.71) rotate(-90) scale(0.970 1)" font-size="7.89" font-weight="normal" fill="#000" stroke="#000" stroke-width="0.25">80</text>
<text transform="translate(204.67 480.72) rotate(-90) scale(0.970 1)" font-size="7.89" font-weight="normal" fill="#000" stroke="#000" stroke-width="0.25">100</text>
<text transform="translate(214.97 587.81) scale(0.893 1)" font-size="8.43" font-weight="bold" fill="#000">4</text>
<text transform="translate(243.51 587.81) scale(0.893 1)" font-size="8.43" font-weight="bold" fill="#000">8</text>
<text transform="translate(269.55 587.85) scale(0.893 1)" font-size="8.43" font-weight="bold" fill="#000">12</text>
<text transform="translate(298.43 587.81) scale(0.893 1)" font-size="8.43" font-weight="bold" fill="#000">16</text>
<text transform="translate(247.45 599.06) scale(1.099 1)" font-size="9.39" font-weight="normal" fill="#000" stroke="#000" stroke-width="0.30">weeks</text>
<text transform="translate(193.66 568.81) rotate(-90) scale(1.123 1)" font-size="9.25" font-weight="normal" fill="#000" stroke="#000" stroke-width="0.22">% CD45.2 chimerism</text>
<text transform="translate(244.94 459.94) scale(1.216 1)" font-size="11.41" font-weight="normal" fill="#000" stroke="#000" stroke-width="0.10">B220+</text>
<text transform="translate(179.00 451.75) scale(0.898 1)" font-size="15.00" font-weight="bold" fill="#000" stroke="#000" stroke-width="0.30">J</text>
<polyline points="217.10,475.70 245.60,474.70 273.80,478.00 302.70,479.50" fill="none" stroke="#e01818" stroke-width="2.0" stroke-linejoin="round"/>
<line x1="273.80" y1="477.20" x2="273.80" y2="478.80" stroke="#e01818" stroke-width="1.8" stroke-linecap="butt"/>
<line x1="267.80" y1="477.20" x2="279.80" y2="477.20" stroke="#e01818" stroke-width="1.8" stroke-linecap="butt"/>
<line x1="267.80" y1="478.80" x2="279.80" y2="478.80" stroke="#e01818" stroke-width="1.8" stroke-linecap="butt"/>
<line x1="302.70" y1="477.40" x2="302.70" y2="481.50" stroke="#e01818" stroke-width="1.8" stroke-linecap="butt"/>
<line x1="296.70" y1="477.40" x2="308.70" y2="477.40" stroke="#e01818" stroke-width="1.8" stroke-linecap="butt"/>
<line x1="296.70" y1="481.50" x2="308.70" y2="481.50" stroke="#e01818" stroke-width="1.8" stroke-linecap="butt"/>
<polyline points="217.10,507.00 245.60,530.00 273.80,548.30 302.70,550.30" fill="none" stroke="#33dd33" stroke-width="2.0" stroke-linejoin="round"/>
<line x1="217.10" y1="501.00" x2="217.10" y2="511.90" stroke="#33dd33" stroke-width="1.8" stroke-linecap="butt"/>
<line x1="211.10" y1="501.00" x2="223.10" y2="501.00" stroke="#33dd33" stroke-width="1.8" stroke-linecap="butt"/>
<line x1="211.10" y1="511.90" x2="223.10" y2="511.90" stroke="#33dd33" stroke-width="1.8" stroke-linecap="butt"/>
<line x1="245.60" y1="523.20" x2="245.60" y2="536.70" stroke="#33dd33" stroke-width="1.8" stroke-linecap="butt"/>
<line x1="239.60" y1="523.20" x2="251.60" y2="523.20" stroke="#33dd33" stroke-width="1.8" stroke-linecap="butt"/>
<line x1="239.60" y1="536.70" x2="251.60" y2="536.70" stroke="#33dd33" stroke-width="1.8" stroke-linecap="butt"/>
<line x1="273.80" y1="543.70" x2="273.80" y2="552.80" stroke="#33dd33" stroke-width="1.8" stroke-linecap="butt"/>
<line x1="267.80" y1="543.70" x2="279.80" y2="543.70" stroke="#33dd33" stroke-width="1.8" stroke-linecap="butt"/>
<line x1="267.80" y1="552.80" x2="279.80" y2="552.80" stroke="#33dd33" stroke-width="1.8" stroke-linecap="butt"/>
<line x1="302.70" y1="544.40" x2="302.70" y2="556.00" stroke="#33dd33" stroke-width="1.8" stroke-linecap="butt"/>
<line x1="296.70" y1="544.40" x2="308.70" y2="544.40" stroke="#33dd33" stroke-width="1.8" stroke-linecap="butt"/>
<line x1="296.70" y1="556.00" x2="308.70" y2="556.00" stroke="#33dd33" stroke-width="1.8" stroke-linecap="butt"/>
<line x1="367.10" y1="473.35" x2="367.10" y2="570.85" stroke="#333" stroke-width="1.1" stroke-linecap="butt"/>
<line x1="363.10" y1="570.30" x2="367.10" y2="570.30" stroke="#333" stroke-width="1.1" stroke-linecap="butt"/>
<line x1="363.10" y1="551.02" x2="367.10" y2="551.02" stroke="#333" stroke-width="1.1" stroke-linecap="butt"/>
<line x1="363.10" y1="531.74" x2="367.10" y2="531.74" stroke="#333" stroke-width="1.1" stroke-linecap="butt"/>
<line x1="363.10" y1="512.46" x2="367.10" y2="512.46" stroke="#333" stroke-width="1.1" stroke-linecap="butt"/>
<line x1="363.10" y1="493.18" x2="367.10" y2="493.18" stroke="#333" stroke-width="1.1" stroke-linecap="butt"/>
<line x1="363.10" y1="473.90" x2="367.10" y2="473.90" stroke="#333" stroke-width="1.1" stroke-linecap="butt"/>
<line x1="372.55" y1="573.90" x2="458.25" y2="573.90" stroke="#333" stroke-width="1.1" stroke-linecap="butt"/>
<line x1="373.10" y1="573.90" x2="373.10" y2="577.70" stroke="#333" stroke-width="1.1" stroke-linecap="butt"/>
<line x1="401.30" y1="573.90" x2="401.30" y2="577.70" stroke="#333" stroke-width="1.1" stroke-linecap="butt"/>
<line x1="429.40" y1="573.90" x2="429.40" y2="577.70" stroke="#333" stroke-width="1.1" stroke-linecap="butt"/>
<line x1="457.70" y1="573.90" x2="457.70" y2="577.70" stroke="#333" stroke-width="1.1" stroke-linecap="butt"/>
<text transform="translate(360.57 572.44) rotate(-90) scale(0.921 1)" font-size="8.31" font-weight="normal" fill="#000" stroke="#000" stroke-width="0.25">0</text>
<text transform="translate(360.57 555.32) rotate(-90) scale(0.921 1)" font-size="8.31" font-weight="normal" fill="#000" stroke="#000" stroke-width="0.25">20</text>
<text transform="translate(360.57 535.93) rotate(-90) scale(0.921 1)" font-size="8.31" font-weight="normal" fill="#000" stroke="#000" stroke-width="0.25">40</text>
<text transform="translate(360.57 516.76) rotate(-90) scale(0.921 1)" font-size="8.31" font-weight="normal" fill="#000" stroke="#000" stroke-width="0.25">60</text>
<text transform="translate(360.57 497.47) rotate(-90) scale(0.921 1)" font-size="8.31" font-weight="normal" fill="#000" stroke="#000" stroke-width="0.25">80</text>
<text transform="translate(360.57 480.42) rotate(-90) scale(0.921 1)" font-size="8.31" font-weight="normal" fill="#000" stroke="#000" stroke-width="0.25">100</text>
<text transform="translate(370.97 587.81) scale(0.893 1)" font-size="8.43" font-weight="bold" fill="#000">4</text>
<text transform="translate(399.21 587.81) scale(0.893 1)" font-size="8.43" font-weight="bold" fill="#000">8</text>
<text transform="translate(425.15 587.85) scale(0.893 1)" font-size="8.43" font-weight="bold" fill="#000">12</text>
<text transform="translate(453.43 587.81) scale(0.893 1)" font-size="8.43" font-weight="bold" fill="#000">16</text>
<text transform="translate(402.05 599.06) scale(1.092 1)" font-size="9.39" font-weight="normal" fill="#000" stroke="#000" stroke-width="0.30">weeks</text>
<text transform="translate(350.45 568.11) rotate(-90) scale(1.077 1)" font-size="9.66" font-weight="normal" fill="#000" stroke="#000" stroke-width="0.22">% CD45.2 chimerism</text>
<text transform="translate(394.90 460.04) scale(1.190 1)" font-size="10.99" font-weight="normal" fill="#000" stroke="#000" stroke-width="0.10">CD3+</text>
<text transform="translate(332.50 452.00) scale(0.898 1)" font-size="15.36" font-weight="bold" fill="#000" stroke="#000" stroke-width="0.30">K</text>
<polyline points="373.10,523.90 401.30,499.20 429.40,487.60 457.70,486.30" fill="none" stroke="#e01818" stroke-width="2.0" stroke-linejoin="round"/>
<line x1="373.10" y1="522.60" x2="373.10" y2="525.20" stroke="#e01818" stroke-width="1.8" stroke-linecap="butt"/>
<line x1="367.10" y1="522.60" x2="379.10" y2="522.60" stroke="#e01818" stroke-width="1.8" stroke-linecap="butt"/>
<line x1="367.10" y1="525.20" x2="379.10" y2="525.20" stroke="#e01818" stroke-width="1.8" stroke-linecap="butt"/>
<line x1="401.30" y1="497.60" x2="401.30" y2="500.80" stroke="#e01818" stroke-width="1.8" stroke-linecap="butt"/>
<line x1="395.30" y1="497.60" x2="407.30" y2="497.60" stroke="#e01818" stroke-width="1.8" stroke-linecap="butt"/>
<line x1="395.30" y1="500.80" x2="407.30" y2="500.80" stroke="#e01818" stroke-width="1.8" stroke-linecap="butt"/>
<line x1="429.40" y1="487.00" x2="429.40" y2="488.30" stroke="#e01818" stroke-width="1.8" stroke-linecap="butt"/>
<line x1="423.40" y1="487.00" x2="435.40" y2="487.00" stroke="#e01818" stroke-width="1.8" stroke-linecap="butt"/>
<line x1="423.40" y1="488.30" x2="435.40" y2="488.30" stroke="#e01818" stroke-width="1.8" stroke-linecap="butt"/>
<line x1="457.70" y1="484.40" x2="457.70" y2="488.40" stroke="#e01818" stroke-width="1.8" stroke-linecap="butt"/>
<line x1="451.70" y1="484.40" x2="463.70" y2="484.40" stroke="#e01818" stroke-width="1.8" stroke-linecap="butt"/>
<line x1="451.70" y1="488.40" x2="463.70" y2="488.40" stroke="#e01818" stroke-width="1.8" stroke-linecap="butt"/>
<polyline points="373.10,559.30 401.30,552.10 429.40,552.50 457.70,554.20" fill="none" stroke="#33dd33" stroke-width="2.0" stroke-linejoin="round"/>
<line x1="373.10" y1="558.20" x2="373.10" y2="560.40" stroke="#33dd33" stroke-width="1.8" stroke-linecap="butt"/>
<line x1="367.10" y1="558.20" x2="379.10" y2="558.20" stroke="#33dd33" stroke-width="1.8" stroke-linecap="butt"/>
<line x1="367.10" y1="560.40" x2="379.10" y2="560.40" stroke="#33dd33" stroke-width="1.8" stroke-linecap="butt"/>
<line x1="401.30" y1="549.50" x2="401.30" y2="554.70" stroke="#33dd33" stroke-width="1.8" stroke-linecap="butt"/>
<line x1="395.30" y1="549.50" x2="407.30" y2="549.50" stroke="#33dd33" stroke-width="1.8" stroke-linecap="butt"/>
<line x1="395.30" y1="554.70" x2="407.30" y2="554.70" stroke="#33dd33" stroke-width="1.8" stroke-linecap="butt"/>
<line x1="429.40" y1="549.30" x2="429.40" y2="555.70" stroke="#33dd33" stroke-width="1.8" stroke-linecap="butt"/>
<line x1="423.40" y1="549.30" x2="435.40" y2="549.30" stroke="#33dd33" stroke-width="1.8" stroke-linecap="butt"/>
<line x1="423.40" y1="555.70" x2="435.40" y2="555.70" stroke="#33dd33" stroke-width="1.8" stroke-linecap="butt"/>
<line x1="457.70" y1="550.80" x2="457.70" y2="557.20" stroke="#33dd33" stroke-width="1.8" stroke-linecap="butt"/>
<line x1="451.70" y1="550.80" x2="463.70" y2="550.80" stroke="#33dd33" stroke-width="1.8" stroke-linecap="butt"/>
<line x1="451.70" y1="557.20" x2="463.70" y2="557.20" stroke="#33dd33" stroke-width="1.8" stroke-linecap="butt"/>
<line x1="486.20" y1="467.80" x2="501.90" y2="467.80" stroke="#b02424" stroke-width="2" stroke-linecap="butt"/>
<text transform="translate(508.20 470.15) scale(1.468 1)" font-size="7.39" font-weight="normal" fill="#000" stroke="#000" stroke-width="0.35">WT</text>
<line x1="486.20" y1="477.10" x2="501.90" y2="477.10" stroke="#3cd03c" stroke-width="2" stroke-linecap="butt"/>
<text transform="translate(507.10 479.17) scale(1.896 1)" font-size="7.57" font-weight="normal" fill="#000" stroke="#000" stroke-width="0.35">Het</text>
<line x1="56.00" y1="651.15" x2="56.00" y2="747.45" stroke="#333" stroke-width="1.1" stroke-linecap="butt"/>
<line x1="52.00" y1="746.90" x2="56.00" y2="746.90" stroke="#333" stroke-width="1.1" stroke-linecap="butt"/>
<line x1="52.00" y1="727.86" x2="56.00" y2="727.86" stroke="#333" stroke-width="1.1" stroke-linecap="butt"/>
<line x1="52.00" y1="708.82" x2="56.00" y2="708.82" stroke="#333" stroke-width="1.1" stroke-linecap="butt"/>
<line x1="52.00" y1="689.78" x2="56.00" y2="689.78" stroke="#333" stroke-width="1.1" stroke-linecap="butt"/>
<line x1="52.00" y1="670.74" x2="56.00" y2="670.74" stroke="#333" stroke-width="1.1" stroke-linecap="butt"/>
<line x1="52.00" y1="651.70" x2="56.00" y2="651.70" stroke="#333" stroke-width="1.1" stroke-linecap="butt"/>
<line x1="61.05" y1="751.50" x2="147.45" y2="751.50" stroke="#333" stroke-width="1.1" stroke-linecap="butt"/>
<line x1="61.60" y1="751.50" x2="61.60" y2="755.30" stroke="#333" stroke-width="1.1" stroke-linecap="butt"/>
<line x1="89.90" y1="751.50" x2="89.90" y2="755.30" stroke="#333" stroke-width="1.1" stroke-linecap="butt"/>
<line x1="118.10" y1="751.50" x2="118.10" y2="755.30" stroke="#333" stroke-width="1.1" stroke-linecap="butt"/>
<line x1="146.90" y1="751.50" x2="146.90" y2="755.30" stroke="#333" stroke-width="1.1" stroke-linecap="butt"/>
<text transform="translate(48.77 749.04) rotate(-90) scale(0.937 1)" font-size="8.17" font-weight="normal" fill="#000" stroke="#000" stroke-width="0.25">0</text>
<text transform="translate(48.77 732.16) rotate(-90) scale(0.937 1)" font-size="8.17" font-weight="normal" fill="#000" stroke="#000" stroke-width="0.25">20</text>
<text transform="translate(48.77 713.01) rotate(-90) scale(0.937 1)" font-size="8.17" font-weight="normal" fill="#000" stroke="#000" stroke-width="0.25">40</text>
<text transform="translate(48.77 694.08) rotate(-90) scale(0.937 1)" font-size="8.17" font-weight="normal" fill="#000" stroke="#000" stroke-width="0.25">60</text>
<text transform="translate(48.77 675.03) rotate(-90) scale(0.937 1)" font-size="8.17" font-weight="normal" fill="#000" stroke="#000" stroke-width="0.25">80</text>
<text transform="translate(48.77 658.22) rotate(-90) scale(0.937 1)" font-size="8.17" font-weight="normal" fill="#000" stroke="#000" stroke-width="0.25">100</text>
<text transform="translate(59.47 765.41) scale(0.893 1)" font-size="8.43" font-weight="bold" fill="#000">4</text>
<text transform="translate(87.81 765.41) scale(0.893 1)" font-size="8.43" font-weight="bold" fill="#000">8</text>
<text transform="translate(113.85 765.45) scale(0.893 1)" font-size="8.43" font-weight="bold" fill="#000">12</text>
<text transform="translate(142.63 765.41) scale(0.893 1)" font-size="8.43" font-weight="bold" fill="#000">16</text>
<text transform="translate(88.65 776.06) scale(1.084 1)" font-size="9.39" font-weight="normal" fill="#000" stroke="#000" stroke-width="0.30">weeks</text>
<text transform="translate(32.36 744.51) rotate(-90) scale(1.140 1)" font-size="9.12" font-weight="normal" fill="#000" stroke="#000" stroke-width="0.22">% CD45.2 chimerism</text>
<text transform="translate(65.70 633.53) scale(1.068 1)" font-size="12.11" font-weight="normal" fill="#000" stroke="#000" stroke-width="0.10">Gr-1hiMac-1+</text>
<text transform="translate(0.37 619.80) scale(0.842 1)" font-size="15.22" font-weight="bold" fill="#000" stroke="#000" stroke-width="0.30">L</text>
<polyline points="61.60,654.40 89.90,659.00 118.10,659.00 146.90,667.10" fill="none" stroke="#e01818" stroke-width="2.0" stroke-linejoin="round"/>
<line x1="61.60" y1="653.20" x2="61.60" y2="655.60" stroke="#e01818" stroke-width="1.8" stroke-linecap="butt"/>
<line x1="55.60" y1="653.20" x2="67.60" y2="653.20" stroke="#e01818" stroke-width="1.8" stroke-linecap="butt"/>
<line x1="55.60" y1="655.60" x2="67.60" y2="655.60" stroke="#e01818" stroke-width="1.8" stroke-linecap="butt"/>
<line x1="89.90" y1="657.80" x2="89.90" y2="660.20" stroke="#e01818" stroke-width="1.8" stroke-linecap="butt"/>
<line x1="83.90" y1="657.80" x2="95.90" y2="657.80" stroke="#e01818" stroke-width="1.8" stroke-linecap="butt"/>
<line x1="83.90" y1="660.20" x2="95.90" y2="660.20" stroke="#e01818" stroke-width="1.8" stroke-linecap="butt"/>
<line x1="118.10" y1="655.20" x2="118.10" y2="662.20" stroke="#e01818" stroke-width="1.8" stroke-linecap="butt"/>
<line x1="112.10" y1="655.20" x2="124.10" y2="655.20" stroke="#e01818" stroke-width="1.8" stroke-linecap="butt"/>
<line x1="112.10" y1="662.20" x2="124.10" y2="662.20" stroke="#e01818" stroke-width="1.8" stroke-linecap="butt"/>
<line x1="146.90" y1="664.80" x2="146.90" y2="669.20" stroke="#e01818" stroke-width="1.8" stroke-linecap="butt"/>
<line x1="140.90" y1="664.80" x2="152.90" y2="664.80" stroke="#e01818" stroke-width="1.8" stroke-linecap="butt"/>
<line x1="140.90" y1="669.20" x2="152.90" y2="669.20" stroke="#e01818" stroke-width="1.8" stroke-linecap="butt"/>
<polyline points="61.60,707.30 89.90,710.90 118.10,708.10 146.90,713.00" fill="none" stroke="#33dd33" stroke-width="2.0" stroke-linejoin="round"/>
<line x1="61.60" y1="699.70" x2="61.60" y2="714.50" stroke="#33dd33" stroke-width="1.8" stroke-linecap="butt"/>
<line x1="55.60" y1="699.70" x2="67.60" y2="699.70" stroke="#33dd33" stroke-width="1.8" stroke-linecap="butt"/>
<line x1="55.60" y1="714.50" x2="67.60" y2="714.50" stroke="#33dd33" stroke-width="1.8" stroke-linecap="butt"/>
<line x1="89.90" y1="703.90" x2="89.90" y2="718.30" stroke="#33dd33" stroke-width="1.8" stroke-linecap="butt"/>
<line x1="83.90" y1="703.90" x2="95.90" y2="703.90" stroke="#33dd33" stroke-width="1.8" stroke-linecap="butt"/>
<line x1="83.90" y1="718.30" x2="95.90" y2="718.30" stroke="#33dd33" stroke-width="1.8" stroke-linecap="butt"/>
<line x1="118.10" y1="700.90" x2="118.10" y2="715.70" stroke="#33dd33" stroke-width="1.8" stroke-linecap="butt"/>
<line x1="112.10" y1="700.90" x2="124.10" y2="700.90" stroke="#33dd33" stroke-width="1.8" stroke-linecap="butt"/>
<line x1="112.10" y1="715.70" x2="124.10" y2="715.70" stroke="#33dd33" stroke-width="1.8" stroke-linecap="butt"/>
<line x1="146.90" y1="707.70" x2="146.90" y2="719.30" stroke="#33dd33" stroke-width="1.8" stroke-linecap="butt"/>
<line x1="140.90" y1="707.70" x2="152.90" y2="707.70" stroke="#33dd33" stroke-width="1.8" stroke-linecap="butt"/>
<line x1="140.90" y1="719.30" x2="152.90" y2="719.30" stroke="#33dd33" stroke-width="1.8" stroke-linecap="butt"/>
<line x1="217.90" y1="651.15" x2="217.90" y2="747.45" stroke="#333" stroke-width="1.1" stroke-linecap="butt"/>
<line x1="213.90" y1="746.90" x2="217.90" y2="746.90" stroke="#333" stroke-width="1.1" stroke-linecap="butt"/>
<line x1="213.90" y1="727.86" x2="217.90" y2="727.86" stroke="#333" stroke-width="1.1" stroke-linecap="butt"/>
<line x1="213.90" y1="708.82" x2="217.90" y2="708.82" stroke="#333" stroke-width="1.1" stroke-linecap="butt"/>
<line x1="213.90" y1="689.78" x2="217.90" y2="689.78" stroke="#333" stroke-width="1.1" stroke-linecap="butt"/>
<line x1="213.90" y1="670.74" x2="217.90" y2="670.74" stroke="#333" stroke-width="1.1" stroke-linecap="butt"/>
<line x1="213.90" y1="651.70" x2="217.90" y2="651.70" stroke="#333" stroke-width="1.1" stroke-linecap="butt"/>
<line x1="223.25" y1="751.50" x2="308.25" y2="751.50" stroke="#333" stroke-width="1.1" stroke-linecap="butt"/>
<line x1="223.80" y1="751.50" x2="223.80" y2="755.30" stroke="#333" stroke-width="1.1" stroke-linecap="butt"/>
<line x1="251.70" y1="751.50" x2="251.70" y2="755.30" stroke="#333" stroke-width="1.1" stroke-linecap="butt"/>
<line x1="279.80" y1="751.50" x2="279.80" y2="755.30" stroke="#333" stroke-width="1.1" stroke-linecap="butt"/>
<line x1="307.70" y1="751.50" x2="307.70" y2="755.30" stroke="#333" stroke-width="1.1" stroke-linecap="butt"/>
<text transform="translate(210.67 749.04) rotate(-90) scale(0.937 1)" font-size="8.17" font-weight="normal" fill="#000" stroke="#000" stroke-width="0.25">0</text>
<text transform="translate(210.67 732.16) rotate(-90) scale(0.937 1)" font-size="8.17" font-weight="normal" fill="#000" stroke="#000" stroke-width="0.25">20</text>
<text transform="translate(210.67 713.01) rotate(-90) scale(0.937 1)" font-size="8.17" font-weight="normal" fill="#000" stroke="#000" stroke-width="0.25">40</text>
<text transform="translate(210.67 694.08) rotate(-90) scale(0.937 1)" font-size="8.17" font-weight="normal" fill="#000" stroke="#000" stroke-width="0.25">60</text>
<text transform="translate(210.67 675.03) rotate(-90) scale(0.937 1)" font-size="8.17" font-weight="normal" fill="#000" stroke="#000" stroke-width="0.25">80</text>
<text transform="translate(210.67 658.22) rotate(-90) scale(0.937 1)" font-size="8.17" font-weight="normal" fill="#000" stroke="#000" stroke-width="0.25">100</text>
<text transform="translate(221.67 765.41) scale(0.893 1)" font-size="8.43" font-weight="bold" fill="#000">4</text>
<text transform="translate(249.61 765.41) scale(0.893 1)" font-size="8.43" font-weight="bold" fill="#000">8</text>
<text transform="translate(275.55 765.45) scale(0.893 1)" font-size="8.43" font-weight="bold" fill="#000">12</text>
<text transform="translate(303.43 765.41) scale(0.893 1)" font-size="8.43" font-weight="bold" fill="#000">16</text>
<text transform="translate(250.75 776.06) scale(1.084 1)" font-size="9.39" font-weight="normal" fill="#000" stroke="#000" stroke-width="0.30">weeks</text>
<text transform="translate(196.26 744.51) rotate(-90) scale(1.123 1)" font-size="9.25" font-weight="normal" fill="#000" stroke="#000" stroke-width="0.22">% CD45.2 chimerism</text>
<text transform="translate(224.90 633.53) scale(1.124 1)" font-size="11.56" font-weight="normal" fill="#000" stroke="#000" stroke-width="0.10">Gr-1loMac-1+</text>
<text transform="translate(177.12 620.00) scale(0.977 1)" font-size="15.51" font-weight="bold" fill="#000" stroke="#000" stroke-width="0.30">M</text>
<polyline points="223.80,667.10 251.70,656.50 279.80,661.60 307.70,660.70" fill="none" stroke="#e01818" stroke-width="2.0" stroke-linejoin="round"/>
<line x1="223.80" y1="665.30" x2="223.80" y2="668.90" stroke="#e01818" stroke-width="1.8" stroke-linecap="butt"/>
<line x1="217.80" y1="665.30" x2="229.80" y2="665.30" stroke="#e01818" stroke-width="1.8" stroke-linecap="butt"/>
<line x1="217.80" y1="668.90" x2="229.80" y2="668.90" stroke="#e01818" stroke-width="1.8" stroke-linecap="butt"/>
<line x1="251.70" y1="654.70" x2="251.70" y2="658.30" stroke="#e01818" stroke-width="1.8" stroke-linecap="butt"/>
<line x1="245.70" y1="654.70" x2="257.70" y2="654.70" stroke="#e01818" stroke-width="1.8" stroke-linecap="butt"/>
<line x1="245.70" y1="658.30" x2="257.70" y2="658.30" stroke="#e01818" stroke-width="1.8" stroke-linecap="butt"/>
<line x1="279.80" y1="658.80" x2="279.80" y2="664.40" stroke="#e01818" stroke-width="1.8" stroke-linecap="butt"/>
<line x1="273.80" y1="658.80" x2="285.80" y2="658.80" stroke="#e01818" stroke-width="1.8" stroke-linecap="butt"/>
<line x1="273.80" y1="664.40" x2="285.80" y2="664.40" stroke="#e01818" stroke-width="1.8" stroke-linecap="butt"/>
<line x1="307.70" y1="659.20" x2="307.70" y2="662.20" stroke="#e01818" stroke-width="1.8" stroke-linecap="butt"/>
<line x1="301.70" y1="659.20" x2="313.70" y2="659.20" stroke="#e01818" stroke-width="1.8" stroke-linecap="butt"/>
<line x1="301.70" y1="662.20" x2="313.70" y2="662.20" stroke="#e01818" stroke-width="1.8" stroke-linecap="butt"/>
<polyline points="223.80,723.10 251.70,718.70 279.80,718.30 307.70,725.70" fill="none" stroke="#33dd33" stroke-width="2.0" stroke-linejoin="round"/>
<line x1="223.80" y1="720.00" x2="223.80" y2="726.70" stroke="#33dd33" stroke-width="1.8" stroke-linecap="butt"/>
<line x1="217.80" y1="720.00" x2="229.80" y2="720.00" stroke="#33dd33" stroke-width="1.8" stroke-linecap="butt"/>
<line x1="217.80" y1="726.70" x2="229.80" y2="726.70" stroke="#33dd33" stroke-width="1.8" stroke-linecap="butt"/>
<line x1="251.70" y1="712.60" x2="251.70" y2="725.30" stroke="#33dd33" stroke-width="1.8" stroke-linecap="butt"/>
<line x1="245.70" y1="712.60" x2="257.70" y2="712.60" stroke="#33dd33" stroke-width="1.8" stroke-linecap="butt"/>
<line x1="245.70" y1="725.30" x2="257.70" y2="725.30" stroke="#33dd33" stroke-width="1.8" stroke-linecap="butt"/>
<line x1="279.80" y1="711.50" x2="279.80" y2="724.60" stroke="#33dd33" stroke-width="1.8" stroke-linecap="butt"/>
<line x1="273.80" y1="711.50" x2="285.80" y2="711.50" stroke="#33dd33" stroke-width="1.8" stroke-linecap="butt"/>
<line x1="273.80" y1="724.60" x2="285.80" y2="724.60" stroke="#33dd33" stroke-width="1.8" stroke-linecap="butt"/>
<line x1="307.70" y1="720.80" x2="307.70" y2="729.90" stroke="#33dd33" stroke-width="1.8" stroke-linecap="butt"/>
<line x1="301.70" y1="720.80" x2="313.70" y2="720.80" stroke="#33dd33" stroke-width="1.8" stroke-linecap="butt"/>
<line x1="301.70" y1="729.90" x2="313.70" y2="729.90" stroke="#33dd33" stroke-width="1.8" stroke-linecap="butt"/>
<line x1="376.60" y1="652.35" x2="376.60" y2="759.95" stroke="#222" stroke-width="1.1" stroke-linecap="butt"/>
<line x1="372.40" y1="759.40" x2="376.60" y2="759.40" stroke="#222" stroke-width="1.1" stroke-linecap="butt"/>
<line x1="372.40" y1="738.10" x2="376.60" y2="738.10" stroke="#222" stroke-width="1.1" stroke-linecap="butt"/>
<line x1="372.40" y1="716.80" x2="376.60" y2="716.80" stroke="#222" stroke-width="1.1" stroke-linecap="butt"/>
<line x1="372.40" y1="695.50" x2="376.60" y2="695.50" stroke="#222" stroke-width="1.1" stroke-linecap="butt"/>
<line x1="372.40" y1="674.20" x2="376.60" y2="674.20" stroke="#222" stroke-width="1.1" stroke-linecap="butt"/>
<line x1="372.40" y1="652.90" x2="376.60" y2="652.90" stroke="#222" stroke-width="1.1" stroke-linecap="butt"/>
<text transform="translate(364.54 761.58) rotate(-90) scale(0.737 1)" font-size="10.56" font-weight="normal" fill="#000" stroke="#000" stroke-width="0.15">0</text>
<text transform="translate(364.54 742.48) rotate(-90) scale(0.737 1)" font-size="10.56" font-weight="normal" fill="#000" stroke="#000" stroke-width="0.15">20</text>
<text transform="translate(364.54 721.06) rotate(-90) scale(0.737 1)" font-size="10.56" font-weight="normal" fill="#000" stroke="#000" stroke-width="0.15">40</text>
<text transform="translate(364.54 699.88) rotate(-90) scale(0.737 1)" font-size="10.56" font-weight="normal" fill="#000" stroke="#000" stroke-width="0.15">60</text>
<text transform="translate(364.54 678.56) rotate(-90) scale(0.737 1)" font-size="10.56" font-weight="normal" fill="#000" stroke="#000" stroke-width="0.15">80</text>
<text transform="translate(364.54 659.53) rotate(-90) scale(0.737 1)" font-size="10.56" font-weight="normal" fill="#000" stroke="#000" stroke-width="0.15">100</text>
<text transform="translate(350.65 749.62) rotate(-90) scale(1.114 1)" font-size="9.52" font-weight="normal" fill="#000" stroke="#000" stroke-width="0.15">% CD45.2 chimerism</text>
<text transform="translate(333.05 620.20) scale(0.923 1)" font-size="15.80" font-weight="bold" fill="#000" stroke="#000" stroke-width="0.30">N</text>
<line x1="390.80" y1="664.40" x2="390.80" y2="667.00" stroke="#000" stroke-width="1" stroke-linecap="butt"/>
<line x1="387.80" y1="664.40" x2="393.80" y2="664.40" stroke="#000" stroke-width="1" stroke-linecap="butt"/>
<rect x="383.10" y="667.00" width="15.40" height="92.40" fill="#f40202" stroke="#000" stroke-width="0.9"/>
<line x1="406.00" y1="707.00" x2="406.00" y2="713.30" stroke="#000" stroke-width="1" stroke-linecap="butt"/>
<line x1="403.00" y1="707.00" x2="409.00" y2="707.00" stroke="#000" stroke-width="1" stroke-linecap="butt"/>
<rect x="398.50" y="713.30" width="15.00" height="46.10" fill="#02f202" stroke="#000" stroke-width="0.9"/>
<line x1="439.40" y1="658.00" x2="439.40" y2="659.20" stroke="#000" stroke-width="1" stroke-linecap="butt"/>
<line x1="436.40" y1="658.00" x2="442.40" y2="658.00" stroke="#000" stroke-width="1" stroke-linecap="butt"/>
<rect x="431.70" y="659.20" width="15.40" height="100.20" fill="#f40202" stroke="#000" stroke-width="0.9"/>
<line x1="454.80" y1="710.70" x2="454.80" y2="719.50" stroke="#000" stroke-width="1" stroke-linecap="butt"/>
<line x1="451.80" y1="710.70" x2="457.80" y2="710.70" stroke="#000" stroke-width="1" stroke-linecap="butt"/>
<rect x="447.10" y="719.50" width="15.40" height="39.90" fill="#02f202" stroke="#000" stroke-width="0.9"/>
<text transform="translate(386.81 775.55) scale(1.007 1)" font-size="10.42" font-weight="normal" fill="#000" stroke="#000" stroke-width="0.15">LSK</text>
<text transform="translate(434.90 775.30) scale(1.036 1)" font-size="10.22" font-weight="normal" fill="#000" stroke="#000" stroke-width="0.15">Prog</text>
<polyline points="389.9,654.9 389.9,651.8 408,651.8 408,654.9" fill="none" stroke="#000" stroke-width="1"/>
<text transform="translate(393.94 652.18) scale(1.550 1)" font-size="8.38" font-weight="bold" fill="#000">**</text>
<polyline points="438.3,652.8000000000001 438.3,649.7 456.5,649.7 456.5,652.8000000000001" fill="none" stroke="#000" stroke-width="1"/>
<text transform="translate(442.44 649.68) scale(1.550 1)" font-size="8.38" font-weight="bold" fill="#000">**</text>
<rect x="473.20" y="650.80" width="8.20" height="6.50" fill="#f40202" stroke="#000" stroke-width="0.8"/>
<text transform="translate(491.50 657.15) scale(1.011 1)" font-size="9.57" font-weight="normal" fill="#000" stroke="#000" stroke-width="0.15">WT</text>
<rect x="473.20" y="663.30" width="8.20" height="6.10" fill="#02f202" stroke="#000" stroke-width="0.8"/>
<text transform="translate(490.67 669.16) scale(1.162 1)" font-size="9.43" font-weight="normal" fill="#000" stroke="#000" stroke-width="0.15">Het</text>
</svg>
</body></html>
